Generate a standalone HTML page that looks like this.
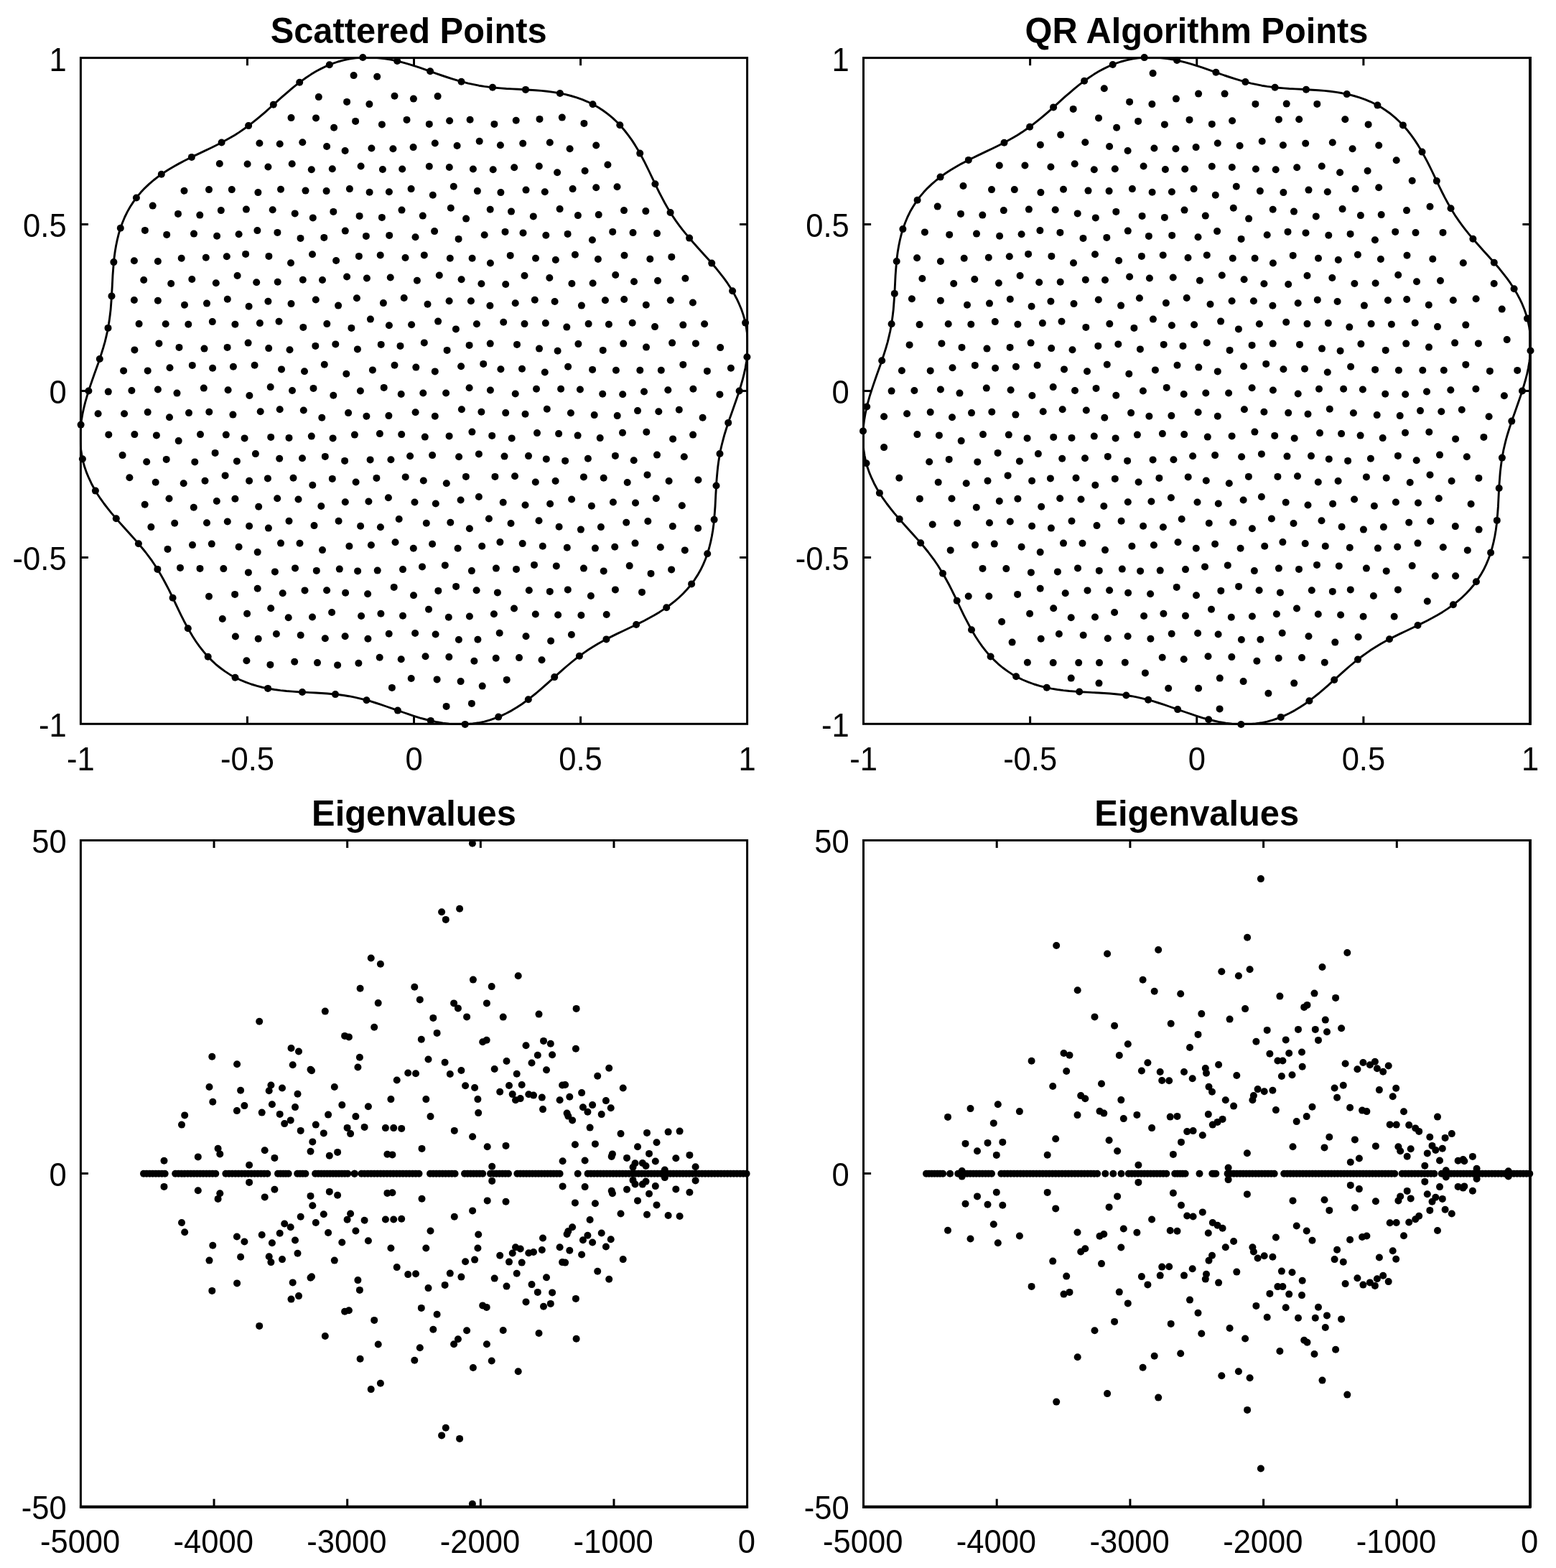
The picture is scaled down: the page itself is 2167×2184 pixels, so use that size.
<!DOCTYPE html>
<html lang="en">
<head>
<meta charset="utf-8">
<title>Scattered Points / QR Algorithm Points / Eigenvalues</title>
<style>
html,body{margin:0;padding:0;background:#fff}
body{width:2167px;height:2184px;overflow:hidden}
svg{display:block}
.tk{font-family:"Liberation Sans",sans-serif;font-size:44.2px;fill:#000}
.tt{font-family:"Liberation Sans",sans-serif;font-size:48.8px;font-weight:bold;fill:#000}
.d{fill:#000;stroke:none}
.c{stroke:#000;stroke-width:2.9;fill:none;stroke-linejoin:round}
</style>
</head>
<body>
<svg width="2167" height="2184" viewBox="0 0 2167 2184">
<rect width="2167" height="2184" fill="#fff"/>
<rect x="112.4" y="80.6" width="928.20" height="927.70" fill="none" stroke="#000" stroke-width="3.0"/>
<text transform="translate(112.40 1072.60) scale(0.985 1.03)" text-anchor="middle" class="tk">-1</text>
<path d="M344.45 1008.3v-10.6M344.45 80.6v10.6" stroke="#000" stroke-width="3.0" fill="none"/>
<text transform="translate(344.45 1072.60) scale(0.985 1.03)" text-anchor="middle" class="tk">-0.5</text>
<path d="M576.50 1008.3v-10.6M576.50 80.6v10.6" stroke="#000" stroke-width="3.0" fill="none"/>
<text transform="translate(576.50 1072.60) scale(0.985 1.03)" text-anchor="middle" class="tk">0</text>
<path d="M808.55 1008.3v-10.6M808.55 80.6v10.6" stroke="#000" stroke-width="3.0" fill="none"/>
<text transform="translate(808.55 1072.60) scale(0.985 1.03)" text-anchor="middle" class="tk">0.5</text>
<text transform="translate(1040.60 1072.60) scale(0.985 1.03)" text-anchor="middle" class="tk">1</text>
<text transform="translate(92.60 1026.20) scale(0.985 1.03)" text-anchor="end" class="tk">-1</text>
<path d="M112.4 776.38h10.6M1040.6 776.38h-10.6" stroke="#000" stroke-width="3.0" fill="none"/>
<text transform="translate(92.60 794.27) scale(0.985 1.03)" text-anchor="end" class="tk">-0.5</text>
<path d="M112.4 544.45h10.6M1040.6 544.45h-10.6" stroke="#000" stroke-width="3.0" fill="none"/>
<text transform="translate(92.60 562.35) scale(0.985 1.03)" text-anchor="end" class="tk">0</text>
<path d="M112.4 312.52h10.6M1040.6 312.52h-10.6" stroke="#000" stroke-width="3.0" fill="none"/>
<text transform="translate(92.60 330.42) scale(0.985 1.03)" text-anchor="end" class="tk">0.5</text>
<text transform="translate(92.60 98.50) scale(0.985 1.03)" text-anchor="end" class="tk">1</text>
<text transform="translate(569.20 59.90) scale(1 1.035)" text-anchor="middle" class="tt">Scattered Points</text>
<rect x="1202.5" y="80.6" width="928.50" height="927.70" fill="none" stroke="#000" stroke-width="3.0"/>
<line x1="2131.0" y1="79.1" x2="2131.0" y2="1009.8" stroke="#000" stroke-width="3.8"/>
<text transform="translate(1202.50 1072.60) scale(0.985 1.03)" text-anchor="middle" class="tk">-1</text>
<path d="M1434.62 1008.3v-10.6M1434.62 80.6v10.6" stroke="#000" stroke-width="3.0" fill="none"/>
<text transform="translate(1434.62 1072.60) scale(0.985 1.03)" text-anchor="middle" class="tk">-0.5</text>
<path d="M1666.75 1008.3v-10.6M1666.75 80.6v10.6" stroke="#000" stroke-width="3.0" fill="none"/>
<text transform="translate(1666.75 1072.60) scale(0.985 1.03)" text-anchor="middle" class="tk">0</text>
<path d="M1898.88 1008.3v-10.6M1898.88 80.6v10.6" stroke="#000" stroke-width="3.0" fill="none"/>
<text transform="translate(1898.88 1072.60) scale(0.985 1.03)" text-anchor="middle" class="tk">0.5</text>
<text transform="translate(2131.00 1072.60) scale(0.985 1.03)" text-anchor="middle" class="tk">1</text>
<text transform="translate(1182.70 1026.20) scale(0.985 1.03)" text-anchor="end" class="tk">-1</text>
<path d="M1202.5 776.38h10.6M2131.0 776.38h-10.6" stroke="#000" stroke-width="3.0" fill="none"/>
<text transform="translate(1182.70 794.27) scale(0.985 1.03)" text-anchor="end" class="tk">-0.5</text>
<path d="M1202.5 544.45h10.6M2131.0 544.45h-10.6" stroke="#000" stroke-width="3.0" fill="none"/>
<text transform="translate(1182.70 562.35) scale(0.985 1.03)" text-anchor="end" class="tk">0</text>
<path d="M1202.5 312.52h10.6M2131.0 312.52h-10.6" stroke="#000" stroke-width="3.0" fill="none"/>
<text transform="translate(1182.70 330.42) scale(0.985 1.03)" text-anchor="end" class="tk">0.5</text>
<text transform="translate(1182.70 98.50) scale(0.985 1.03)" text-anchor="end" class="tk">1</text>
<text transform="translate(1666.45 59.90) scale(1 1.035)" text-anchor="middle" class="tt">QR Algorithm Points</text>
<rect x="112.4" y="1170.5" width="928.20" height="927.80" fill="none" stroke="#000" stroke-width="3.0"/>
<line x1="110.9" y1="2099.0" x2="1042.1" y2="2099.0" stroke="#000" stroke-width="3.8"/>
<text transform="translate(111.60 2162.60) scale(0.985 1.03)" text-anchor="middle" class="tk">-5000</text>
<path d="M298.04 2098.3v-10.6M298.04 1170.5v10.6" stroke="#000" stroke-width="3.0" fill="none"/>
<text transform="translate(297.24 2162.60) scale(0.985 1.03)" text-anchor="middle" class="tk">-4000</text>
<path d="M483.68 2098.3v-10.6M483.68 1170.5v10.6" stroke="#000" stroke-width="3.0" fill="none"/>
<text transform="translate(482.88 2162.60) scale(0.985 1.03)" text-anchor="middle" class="tk">-3000</text>
<path d="M669.32 2098.3v-10.6M669.32 1170.5v10.6" stroke="#000" stroke-width="3.0" fill="none"/>
<text transform="translate(668.52 2162.60) scale(0.985 1.03)" text-anchor="middle" class="tk">-2000</text>
<path d="M854.96 2098.3v-10.6M854.96 1170.5v10.6" stroke="#000" stroke-width="3.0" fill="none"/>
<text transform="translate(854.16 2162.60) scale(0.985 1.03)" text-anchor="middle" class="tk">-1000</text>
<text transform="translate(1039.80 2162.60) scale(0.985 1.03)" text-anchor="middle" class="tk">0</text>
<text transform="translate(92.60 2116.20) scale(0.985 1.03)" text-anchor="end" class="tk">-50</text>
<path d="M112.4 1634.40h10.6M1040.6 1634.40h-10.6" stroke="#000" stroke-width="3.0" fill="none"/>
<text transform="translate(92.60 1652.30) scale(0.985 1.03)" text-anchor="end" class="tk">0</text>
<text transform="translate(92.60 1188.40) scale(0.985 1.03)" text-anchor="end" class="tk">50</text>
<text transform="translate(576.50 1149.80) scale(1 1.035)" text-anchor="middle" class="tt">Eigenvalues</text>
<rect x="1202.5" y="1170.5" width="928.50" height="927.80" fill="none" stroke="#000" stroke-width="3.0"/>
<line x1="1201.0" y1="2099.0" x2="2132.5" y2="2099.0" stroke="#000" stroke-width="3.8"/>
<line x1="2131.0" y1="1169.0" x2="2131.0" y2="2099.8" stroke="#000" stroke-width="3.8"/>
<text transform="translate(1201.70 2162.60) scale(0.985 1.03)" text-anchor="middle" class="tk">-5000</text>
<path d="M1388.20 2098.3v-10.6M1388.20 1170.5v10.6" stroke="#000" stroke-width="3.0" fill="none"/>
<text transform="translate(1387.40 2162.60) scale(0.985 1.03)" text-anchor="middle" class="tk">-4000</text>
<path d="M1573.90 2098.3v-10.6M1573.90 1170.5v10.6" stroke="#000" stroke-width="3.0" fill="none"/>
<text transform="translate(1573.10 2162.60) scale(0.985 1.03)" text-anchor="middle" class="tk">-3000</text>
<path d="M1759.60 2098.3v-10.6M1759.60 1170.5v10.6" stroke="#000" stroke-width="3.0" fill="none"/>
<text transform="translate(1758.80 2162.60) scale(0.985 1.03)" text-anchor="middle" class="tk">-2000</text>
<path d="M1945.30 2098.3v-10.6M1945.30 1170.5v10.6" stroke="#000" stroke-width="3.0" fill="none"/>
<text transform="translate(1944.50 2162.60) scale(0.985 1.03)" text-anchor="middle" class="tk">-1000</text>
<text transform="translate(2130.20 2162.60) scale(0.985 1.03)" text-anchor="middle" class="tk">0</text>
<text transform="translate(1182.70 2116.20) scale(0.985 1.03)" text-anchor="end" class="tk">-50</text>
<path d="M1202.5 1634.40h10.6M2131.0 1634.40h-10.6" stroke="#000" stroke-width="3.0" fill="none"/>
<text transform="translate(1182.70 1652.30) scale(0.985 1.03)" text-anchor="end" class="tk">0</text>
<text transform="translate(1182.70 1188.40) scale(0.985 1.03)" text-anchor="end" class="tk">50</text>
<text transform="translate(1666.75 1149.80) scale(1 1.035)" text-anchor="middle" class="tt">Eigenvalues</text>
<defs><clipPath id="k1"><rect x="110.9" y="79.1" width="931.1999999999999" height="930.6999999999999"/></clipPath><clipPath id="k2"><rect x="1201.0" y="79.1" width="931.5" height="930.6999999999999"/></clipPath></defs>
<path class="c" clip-path="url(#k1)" d="M1029.6 544.5L1032.0 536.5L1034.3 528.5L1036.3 520.4L1038.1 512.2L1039.5 504.0L1040.5 495.7L1041.2 487.4L1041.3 479.1L1041.1 470.9L1040.3 462.7L1039.1 454.6L1037.4 446.5L1035.2 438.6L1032.5 430.8L1029.3 423.2L1025.8 415.7L1021.9 408.4L1017.6 401.2L1013.0 394.2L1008.1 387.4L1003.0 380.8L997.8 374.3L992.4 368.0L987.0 361.8L981.5 355.7L976.1 349.7L970.7 343.7L965.4 337.8L960.3 331.8L955.3 325.9L950.4 319.9L945.8 313.8L941.3 307.6L937.1 301.4L933.0 295.0L929.1 288.4L925.3 281.7L921.7 274.9L918.1 268.0L914.6 260.9L911.2 253.7L907.7 246.4L904.2 239.0L900.6 231.6L896.9 224.2L893.0 216.9L888.9 209.6L884.6 202.4L880.1 195.4L875.2 188.6L870.1 182.0L864.7 175.7L859.0 169.8L853.0 164.1L846.6 158.8L840.0 154.0L833.1 149.5L825.9 145.5L818.5 141.8L810.9 138.7L803.1 135.9L795.1 133.5L787.0 131.4L778.9 129.8L770.6 128.4L762.3 127.3L754.0 126.4L745.8 125.8L737.5 125.2L729.3 124.8L721.2 124.3L713.2 123.9L705.3 123.5L697.4 122.9L689.7 122.2L682.0 121.4L674.5 120.4L667.0 119.2L659.5 117.7L652.1 116.1L644.7 114.2L637.3 112.2L629.9 109.9L622.5 107.5L615.0 105.0L607.4 102.3L599.8 99.6L592.1 96.9L584.4 94.2L576.5 91.6L568.5 89.1L560.5 86.9L552.4 84.8L544.2 83.1L536.0 81.7L527.7 80.7L519.5 80.0L511.2 79.8L502.9 80.1L494.7 80.9L486.6 82.1L478.5 83.8L470.6 86.0L462.8 88.7L455.2 91.8L447.7 95.4L440.3 99.3L433.2 103.6L426.2 108.2L419.4 113.1L412.8 118.2L406.3 123.4L400.0 128.8L393.8 134.2L387.6 139.7L381.6 145.1L375.6 150.5L369.7 155.8L363.8 160.9L357.8 165.9L351.8 170.7L345.7 175.4L339.6 179.8L333.3 184.1L326.9 188.2L320.3 192.1L313.6 195.8L306.8 199.5L299.9 203.0L292.8 206.5L285.6 209.9L278.3 213.4L270.9 216.9L263.5 220.5L256.1 224.2L248.8 228.1L241.5 232.2L234.3 236.5L227.3 241.0L220.5 245.9L213.9 251.0L207.6 256.4L201.6 262.1L196.0 268.1L190.7 274.4L185.8 281.1L181.3 288.0L177.3 295.1L173.7 302.5L170.5 310.2L167.7 318.0L165.3 325.9L163.3 334.0L161.6 342.2L160.2 350.4L159.1 358.7L158.3 367.0L157.6 375.3L157.0 383.5L156.6 391.7L156.2 399.8L155.7 407.8L155.3 415.7L154.7 423.6L154.1 431.3L153.2 439.0L152.2 446.6L151.0 454.1L149.6 461.5L147.9 468.9L146.1 476.3L144.0 483.7L141.7 491.1L139.3 498.5L136.8 506.0L134.1 513.5L131.4 521.1L128.7 528.8L126.0 536.6L123.4 544.5L121.0 552.4L118.7 560.4L116.7 568.5L114.9 576.7L113.5 584.9L112.5 593.2L111.8 601.5L111.7 609.8L111.9 618.0L112.7 626.2L113.9 634.3L115.6 642.4L117.8 650.3L120.5 658.1L123.7 665.7L127.2 673.2L131.1 680.5L135.4 687.7L140.0 694.7L144.9 701.5L150.0 708.1L155.2 714.6L160.6 720.9L166.0 727.1L171.5 733.2L176.9 739.2L182.3 745.2L187.6 751.1L192.7 757.1L197.7 763.0L202.6 769.0L207.2 775.1L211.7 781.2L215.9 787.5L220.0 793.9L223.9 800.5L227.7 807.2L231.3 814.0L234.9 820.9L238.4 828.0L241.8 835.2L245.3 842.5L248.8 849.9L252.4 857.3L256.1 864.7L260.0 872.0L264.1 879.3L268.4 886.5L272.9 893.5L277.8 900.3L282.9 906.9L288.3 913.2L294.0 919.1L300.0 924.8L306.4 930.0L313.0 934.9L319.9 939.4L327.1 943.4L334.5 947.0L342.1 950.2L349.9 953.0L357.9 955.4L365.9 957.5L374.1 959.1L382.4 960.5L390.7 961.6L399.0 962.5L407.2 963.1L415.5 963.7L423.7 964.1L431.8 964.6L439.8 965.0L447.7 965.5L455.6 966.0L463.3 966.7L471.0 967.5L478.5 968.5L486.1 969.7L493.5 971.2L500.9 972.8L508.3 974.7L515.7 976.7L523.1 979.0L530.5 981.4L538.0 984.0L545.6 986.6L553.2 989.3L560.9 992.0L568.6 994.7L576.5 997.3L584.5 999.8L592.5 1002.0L600.6 1004.0L608.8 1005.8L617.0 1007.2L625.3 1008.2L633.5 1008.9L641.8 1009.0L650.1 1008.8L658.3 1008.0L666.4 1006.8L674.5 1005.1L682.4 1002.9L690.2 1000.2L697.8 997.1L705.3 993.5L712.7 989.6L719.8 985.3L726.8 980.7L733.6 975.8L740.2 970.7L746.7 965.5L753.0 960.1L759.2 954.7L765.4 949.2L771.4 943.8L777.4 938.4L783.3 933.1L789.2 928.0L795.2 923.0L801.2 918.2L807.3 913.5L813.4 909.1L819.7 904.8L826.1 900.8L832.7 896.8L839.4 893.1L846.2 889.4L853.1 885.9L860.2 882.4L867.4 879.0L874.7 875.5L882.1 872.0L889.5 868.4L896.9 864.7L904.2 860.8L911.5 856.7L918.7 852.4L925.7 847.9L932.5 843.0L939.1 837.9L945.4 832.5L951.4 826.8L957.0 820.8L962.3 814.5L967.2 807.8L971.6 800.9L975.7 793.8L979.3 786.4L982.5 778.7L985.3 770.9L987.7 763.0L989.7 754.9L991.4 746.7L992.8 738.5L993.9 730.2L994.7 721.9L995.4 713.6L996.0 705.4L996.4 697.2L996.8 689.1L997.3 681.1L997.7 673.2L998.3 665.3L999.0 657.6L999.8 649.9L1000.8 642.4L1002.0 634.9L1003.4 627.4L1005.1 620.0L1007.0 612.6L1009.0 605.2L1011.3 597.8L1013.7 590.4L1016.2 582.9L1018.9 575.4L1021.6 567.8L1024.3 560.1L1027.0 552.3Z"/>
<path class="c" clip-path="url(#k2)" d="M2120.0 544.5L2122.4 536.5L2124.7 528.5L2126.8 520.4L2128.5 512.2L2129.9 504.0L2130.9 495.7L2131.6 487.4L2131.8 479.1L2131.5 470.9L2130.7 462.7L2129.5 454.6L2127.8 446.5L2125.6 438.6L2122.9 430.8L2119.8 423.2L2116.2 415.7L2112.3 408.4L2108.0 401.2L2103.4 394.2L2098.5 387.4L2093.4 380.8L2088.2 374.3L2082.8 368.0L2077.3 361.8L2071.9 355.7L2066.4 349.7L2061.1 343.7L2055.8 337.8L2050.6 331.8L2045.6 325.9L2040.8 319.9L2036.2 313.8L2031.7 307.6L2027.4 301.4L2023.4 295.0L2019.4 288.4L2015.7 281.7L2012.0 274.9L2008.5 268.0L2005.0 260.9L2001.5 253.7L1998.1 246.4L1994.6 239.0L1991.0 231.6L1987.2 224.2L1983.3 216.9L1979.3 209.6L1975.0 202.4L1970.4 195.4L1965.6 188.6L1960.5 182.0L1955.1 175.7L1949.3 169.8L1943.3 164.1L1937.0 158.8L1930.3 154.0L1923.5 149.5L1916.3 145.5L1908.9 141.8L1901.2 138.7L1893.4 135.9L1885.5 133.5L1877.4 131.4L1869.2 129.8L1860.9 128.4L1852.6 127.3L1844.3 126.4L1836.1 125.8L1827.8 125.2L1819.6 124.8L1811.5 124.3L1803.5 123.9L1795.6 123.5L1787.7 122.9L1780.0 122.2L1772.3 121.4L1764.7 120.4L1757.2 119.2L1749.8 117.7L1742.3 116.1L1735.0 114.2L1727.6 112.2L1720.2 109.9L1712.7 107.5L1705.2 105.0L1697.7 102.3L1690.1 99.6L1682.4 96.9L1674.6 94.2L1666.8 91.6L1658.8 89.1L1650.8 86.9L1642.6 84.8L1634.5 83.1L1626.2 81.7L1618.0 80.7L1609.7 80.0L1601.4 79.8L1593.1 80.1L1584.9 80.9L1576.8 82.1L1568.8 83.8L1560.8 86.0L1553.0 88.7L1545.4 91.8L1537.9 95.4L1530.5 99.3L1523.4 103.6L1516.4 108.2L1509.6 113.1L1503.0 118.2L1496.5 123.4L1490.2 128.8L1483.9 134.2L1477.8 139.7L1471.8 145.1L1465.8 150.5L1459.9 155.8L1454.0 160.9L1448.0 165.9L1442.0 170.7L1435.9 175.4L1429.7 179.8L1423.5 184.1L1417.0 188.2L1410.5 192.1L1403.8 195.8L1397.0 199.5L1390.0 203.0L1382.9 206.5L1375.7 209.9L1368.4 213.4L1361.1 216.9L1353.7 220.5L1346.3 224.2L1338.9 228.1L1331.6 232.2L1324.4 236.5L1317.4 241.0L1310.6 245.9L1304.0 251.0L1297.7 256.4L1291.7 262.1L1286.1 268.1L1280.8 274.4L1275.9 281.1L1271.5 288.0L1267.4 295.1L1263.8 302.5L1260.6 310.2L1257.8 318.0L1255.4 325.9L1253.4 334.0L1251.7 342.2L1250.3 350.4L1249.2 358.7L1248.4 367.0L1247.7 375.3L1247.1 383.5L1246.7 391.7L1246.3 399.8L1245.9 407.8L1245.4 415.7L1244.8 423.6L1244.2 431.3L1243.3 439.0L1242.3 446.6L1241.1 454.1L1239.7 461.5L1238.0 468.9L1236.2 476.3L1234.1 483.7L1231.8 491.1L1229.4 498.5L1226.9 506.0L1224.2 513.5L1221.5 521.1L1218.8 528.8L1216.1 536.6L1213.5 544.5L1211.0 552.4L1208.8 560.4L1206.8 568.5L1205.0 576.7L1203.6 584.9L1202.6 593.2L1201.9 601.5L1201.8 609.8L1202.0 618.0L1202.8 626.2L1204.0 634.3L1205.7 642.4L1207.9 650.3L1210.6 658.1L1213.8 665.7L1217.3 673.2L1221.2 680.5L1225.5 687.7L1230.1 694.7L1235.0 701.5L1240.1 708.1L1245.3 714.6L1250.7 720.9L1256.2 727.1L1261.6 733.2L1267.0 739.2L1272.4 745.2L1277.7 751.1L1282.9 757.1L1287.9 763.0L1292.7 769.0L1297.3 775.1L1301.8 781.2L1306.1 787.5L1310.1 793.9L1314.1 800.5L1317.8 807.2L1321.5 814.0L1325.0 820.9L1328.5 828.0L1332.0 835.2L1335.4 842.5L1338.9 849.9L1342.5 857.3L1346.3 864.7L1350.2 872.0L1354.2 879.3L1358.5 886.5L1363.1 893.5L1367.9 900.3L1373.0 906.9L1378.4 913.2L1384.2 919.1L1390.2 924.8L1396.5 930.0L1403.2 934.9L1410.0 939.4L1417.2 943.4L1424.6 947.0L1432.3 950.2L1440.1 953.0L1448.0 955.4L1456.1 957.5L1464.3 959.1L1472.6 960.5L1480.9 961.6L1489.2 962.5L1497.4 963.1L1505.7 963.7L1513.9 964.1L1522.0 964.6L1530.0 965.0L1537.9 965.5L1545.8 966.0L1553.5 966.7L1561.2 967.5L1568.8 968.5L1576.3 969.7L1583.7 971.2L1591.2 972.8L1598.5 974.7L1605.9 976.7L1613.3 979.0L1620.8 981.4L1628.3 984.0L1635.8 986.6L1643.4 989.3L1651.1 992.0L1658.9 994.7L1666.8 997.3L1674.7 999.8L1682.7 1002.0L1690.9 1004.0L1699.0 1005.8L1707.3 1007.2L1715.5 1008.2L1723.8 1008.9L1732.1 1009.0L1740.4 1008.8L1748.6 1008.0L1756.7 1006.8L1764.7 1005.1L1772.7 1002.9L1780.5 1000.2L1788.1 997.1L1795.6 993.5L1803.0 989.6L1810.1 985.3L1817.1 980.7L1823.9 975.8L1830.5 970.7L1837.0 965.5L1843.3 960.1L1849.6 954.7L1855.7 949.2L1861.7 943.8L1867.7 938.4L1873.6 933.1L1879.5 928.0L1885.5 923.0L1891.5 918.2L1897.6 913.5L1903.8 909.1L1910.0 904.8L1916.5 900.8L1923.0 896.8L1929.7 893.1L1936.5 889.4L1943.5 885.9L1950.6 882.4L1957.8 879.0L1965.1 875.5L1972.4 872.0L1979.8 868.4L1987.2 864.7L1994.6 860.8L2001.9 856.7L2009.1 852.4L2016.1 847.9L2022.9 843.0L2029.5 837.9L2035.8 832.5L2041.8 826.8L2047.4 820.8L2052.7 814.5L2057.6 807.8L2062.0 800.9L2066.1 793.8L2069.7 786.4L2072.9 778.7L2075.7 770.9L2078.1 763.0L2080.1 754.9L2081.8 746.7L2083.2 738.5L2084.3 730.2L2085.1 721.9L2085.8 713.6L2086.4 705.4L2086.8 697.2L2087.2 689.1L2087.6 681.1L2088.1 673.2L2088.7 665.3L2089.3 657.6L2090.2 649.9L2091.2 642.4L2092.4 634.9L2093.8 627.4L2095.5 620.0L2097.3 612.6L2099.4 605.2L2101.7 597.8L2104.1 590.4L2106.6 582.9L2109.3 575.4L2112.0 567.8L2114.7 560.1L2117.4 552.3Z"/>
<g class="d"><circle cx="1029.6" cy="544.5" r="5"/><circle cx="1040.4" cy="497.3" r="5"/><circle cx="1038.1" cy="449.6" r="5"/><circle cx="1020.1" cy="405.3" r="5"/><circle cx="991.2" cy="366.6" r="5"/><circle cx="960.1" cy="331.6" r="5"/><circle cx="933.6" cy="296.0" r="5"/><circle cx="912.4" cy="256.2" r="5"/><circle cx="891.2" cy="213.6" r="5"/><circle cx="863.3" cy="174.2" r="5"/><circle cx="825.5" cy="145.2" r="5"/><circle cx="779.9" cy="130.0" r="5"/><circle cx="732.0" cy="124.9" r="5"/><circle cx="686.0" cy="121.8" r="5"/><circle cx="642.5" cy="113.7" r="5"/><circle cx="599.1" cy="99.3" r="5"/><circle cx="553.2" cy="85.0" r="5"/><circle cx="505.3" cy="80.0" r="5"/><circle cx="458.8" cy="90.3" r="5"/><circle cx="417.2" cy="114.7" r="5"/><circle cx="380.8" cy="145.8" r="5"/><circle cx="346.1" cy="175.1" r="5"/><circle cx="308.6" cy="198.5" r="5"/><circle cx="266.9" cy="218.9" r="5"/><circle cx="224.8" cy="242.7" r="5"/><circle cx="189.9" cy="275.5" r="5"/><circle cx="167.8" cy="317.7" r="5"/><circle cx="158.4" cy="365.1" r="5"/><circle cx="155.5" cy="412.4" r="5"/><circle cx="150.5" cy="456.9" r="5"/><circle cx="138.8" cy="500.0" r="5"/><circle cx="123.4" cy="544.5" r="5"/><circle cx="112.6" cy="591.6" r="5"/><circle cx="114.9" cy="639.3" r="5"/><circle cx="132.9" cy="683.6" r="5"/><circle cx="161.8" cy="722.3" r="5"/><circle cx="192.9" cy="757.2" r="5"/><circle cx="219.4" cy="792.9" r="5"/><circle cx="240.6" cy="832.7" r="5"/><circle cx="261.8" cy="875.3" r="5"/><circle cx="289.7" cy="914.7" r="5"/><circle cx="327.5" cy="943.7" r="5"/><circle cx="373.1" cy="958.9" r="5"/><circle cx="421.0" cy="964.0" r="5"/><circle cx="467.0" cy="967.1" r="5"/><circle cx="510.5" cy="975.2" r="5"/><circle cx="553.9" cy="989.6" r="5"/><circle cx="599.8" cy="1003.9" r="5"/><circle cx="647.7" cy="1008.9" r="5"/><circle cx="694.2" cy="998.6" r="5"/><circle cx="735.8" cy="974.2" r="5"/><circle cx="772.2" cy="943.1" r="5"/><circle cx="806.9" cy="913.8" r="5"/><circle cx="844.4" cy="890.4" r="5"/><circle cx="886.1" cy="870.0" r="5"/><circle cx="928.2" cy="846.2" r="5"/><circle cx="963.1" cy="813.4" r="5"/><circle cx="985.2" cy="771.2" r="5"/><circle cx="994.6" cy="723.8" r="5"/><circle cx="997.5" cy="676.5" r="5"/><circle cx="1002.5" cy="632.0" r="5"/><circle cx="1014.2" cy="588.9" r="5"/></g>
<g class="d"><circle cx="492.6" cy="105.1" r="5"/><circle cx="525.2" cy="106.8" r="5"/><circle cx="443.8" cy="135.1" r="5"/><circle cx="483.1" cy="141.9" r="5"/><circle cx="514.4" cy="145.1" r="5"/><circle cx="549.5" cy="133.8" r="5"/><circle cx="575.9" cy="137.6" r="5"/><circle cx="405.5" cy="164.1" r="5"/><circle cx="440.0" cy="164.4" r="5"/><circle cx="465.1" cy="177.7" r="5"/><circle cx="495.1" cy="168.9" r="5"/><circle cx="531.9" cy="173.4" r="5"/><circle cx="566.5" cy="166.9" r="5"/><circle cx="361.4" cy="199.5" r="5"/><circle cx="389.7" cy="200.5" r="5"/><circle cx="421.3" cy="198.2" r="5"/><circle cx="455.1" cy="204.0" r="5"/><circle cx="480.6" cy="210.0" r="5"/><circle cx="517.4" cy="206.5" r="5"/><circle cx="547.4" cy="207.2" r="5"/><circle cx="575.6" cy="205.1" r="5"/><circle cx="305.8" cy="228.0" r="5"/><circle cx="344.6" cy="228.5" r="5"/><circle cx="373.4" cy="232.5" r="5"/><circle cx="406.7" cy="228.2" r="5"/><circle cx="433.8" cy="236.3" r="5"/><circle cx="462.8" cy="235.3" r="5"/><circle cx="502.6" cy="231.5" r="5"/><circle cx="532.9" cy="236.0" r="5"/><circle cx="560.2" cy="235.5" r="5"/><circle cx="256.5" cy="265.8" r="5"/><circle cx="291.0" cy="264.1" r="5"/><circle cx="322.8" cy="264.1" r="5"/><circle cx="359.4" cy="268.1" r="5"/><circle cx="391.0" cy="263.8" r="5"/><circle cx="425.5" cy="265.6" r="5"/><circle cx="454.6" cy="266.1" r="5"/><circle cx="486.9" cy="263.1" r="5"/><circle cx="514.6" cy="267.8" r="5"/><circle cx="541.9" cy="267.3" r="5"/><circle cx="572.6" cy="263.1" r="5"/><circle cx="212.7" cy="286.6" r="5"/><circle cx="248.0" cy="297.9" r="5"/><circle cx="278.3" cy="299.6" r="5"/><circle cx="307.8" cy="293.1" r="5"/><circle cx="342.9" cy="291.6" r="5"/><circle cx="379.7" cy="292.3" r="5"/><circle cx="410.7" cy="297.4" r="5"/><circle cx="435.8" cy="303.4" r="5"/><circle cx="464.3" cy="294.9" r="5"/><circle cx="500.6" cy="300.9" r="5"/><circle cx="531.9" cy="302.9" r="5"/><circle cx="559.5" cy="292.6" r="5"/><circle cx="201.9" cy="320.9" r="5"/><circle cx="232.2" cy="326.9" r="5"/><circle cx="270.0" cy="325.6" r="5"/><circle cx="302.1" cy="328.7" r="5"/><circle cx="332.6" cy="326.2" r="5"/><circle cx="358.4" cy="321.1" r="5"/><circle cx="386.4" cy="323.9" r="5"/><circle cx="418.5" cy="331.9" r="5"/><circle cx="451.3" cy="330.9" r="5"/><circle cx="480.8" cy="321.6" r="5"/><circle cx="509.9" cy="328.9" r="5"/><circle cx="542.2" cy="327.9" r="5"/><circle cx="578.5" cy="330.2" r="5"/><circle cx="186.9" cy="363.2" r="5"/><circle cx="219.9" cy="364.0" r="5"/><circle cx="252.7" cy="359.7" r="5"/><circle cx="286.8" cy="358.7" r="5"/><circle cx="315.8" cy="357.2" r="5"/><circle cx="342.1" cy="353.9" r="5"/><circle cx="374.4" cy="356.9" r="5"/><circle cx="405.0" cy="366.2" r="5"/><circle cx="435.0" cy="354.2" r="5"/><circle cx="468.1" cy="363.0" r="5"/><circle cx="499.9" cy="356.9" r="5"/><circle cx="529.7" cy="355.4" r="5"/><circle cx="564.5" cy="359.0" r="5"/><circle cx="200.2" cy="390.0" r="5"/><circle cx="238.2" cy="395.0" r="5"/><circle cx="267.3" cy="389.0" r="5"/><circle cx="300.8" cy="394.3" r="5"/><circle cx="330.6" cy="384.0" r="5"/><circle cx="357.2" cy="393.3" r="5"/><circle cx="386.7" cy="392.8" r="5"/><circle cx="421.8" cy="389.7" r="5"/><circle cx="449.0" cy="390.0" r="5"/><circle cx="483.1" cy="385.5" r="5"/><circle cx="510.9" cy="387.5" r="5"/><circle cx="543.7" cy="386.5" r="5"/><circle cx="580.9" cy="390.8" r="5"/><circle cx="186.9" cy="418.0" r="5"/><circle cx="219.9" cy="418.8" r="5"/><circle cx="257.0" cy="424.8" r="5"/><circle cx="288.0" cy="422.6" r="5"/><circle cx="316.8" cy="416.8" r="5"/><circle cx="346.6" cy="426.8" r="5"/><circle cx="373.4" cy="419.8" r="5"/><circle cx="405.5" cy="423.1" r="5"/><circle cx="439.8" cy="417.5" r="5"/><circle cx="471.1" cy="425.6" r="5"/><circle cx="496.9" cy="415.3" r="5"/><circle cx="533.9" cy="422.1" r="5"/><circle cx="562.7" cy="415.0" r="5"/><circle cx="193.6" cy="451.1" r="5"/><circle cx="230.7" cy="451.3" r="5"/><circle cx="262.3" cy="451.8" r="5"/><circle cx="295.8" cy="448.1" r="5"/><circle cx="327.4" cy="451.8" r="5"/><circle cx="361.9" cy="450.1" r="5"/><circle cx="388.5" cy="447.8" r="5"/><circle cx="422.3" cy="455.9" r="5"/><circle cx="455.3" cy="451.1" r="5"/><circle cx="489.4" cy="456.9" r="5"/><circle cx="515.9" cy="444.6" r="5"/><circle cx="541.9" cy="453.3" r="5"/><circle cx="573.1" cy="452.3" r="5"/><circle cx="187.4" cy="487.4" r="5"/><circle cx="221.4" cy="478.4" r="5"/><circle cx="249.5" cy="483.9" r="5"/><circle cx="284.5" cy="485.6" r="5"/><circle cx="316.6" cy="483.9" r="5"/><circle cx="345.6" cy="477.6" r="5"/><circle cx="374.2" cy="485.1" r="5"/><circle cx="403.5" cy="487.2" r="5"/><circle cx="439.3" cy="481.9" r="5"/><circle cx="467.3" cy="479.4" r="5"/><circle cx="497.9" cy="486.4" r="5"/><circle cx="530.7" cy="479.9" r="5"/><circle cx="557.5" cy="481.9" r="5"/><circle cx="172.1" cy="516.4" r="5"/><circle cx="205.7" cy="516.4" r="5"/><circle cx="236.5" cy="512.2" r="5"/><circle cx="267.8" cy="508.9" r="5"/><circle cx="296.1" cy="512.7" r="5"/><circle cx="324.9" cy="510.7" r="5"/><circle cx="354.6" cy="508.7" r="5"/><circle cx="392.0" cy="514.4" r="5"/><circle cx="424.0" cy="517.2" r="5"/><circle cx="451.8" cy="507.7" r="5"/><circle cx="482.3" cy="520.7" r="5"/><circle cx="518.9" cy="515.4" r="5"/><circle cx="549.5" cy="508.7" r="5"/><circle cx="579.3" cy="511.6" r="5"/><circle cx="150.8" cy="545.6" r="5"/><circle cx="183.4" cy="544.0" r="5"/><circle cx="219.9" cy="542.5" r="5"/><circle cx="246.5" cy="547.6" r="5"/><circle cx="283.8" cy="540.6" r="5"/><circle cx="317.6" cy="543.2" r="5"/><circle cx="376.7" cy="539.1" r="5"/><circle cx="407.0" cy="544.0" r="5"/><circle cx="436.5" cy="540.9" r="5"/><circle cx="501.9" cy="544.5" r="5"/><circle cx="534.7" cy="539.9" r="5"/><circle cx="609.6" cy="134.1" r="5"/><circle cx="597.8" cy="172.9" r="5"/><circle cx="626.1" cy="168.2" r="5"/><circle cx="654.6" cy="166.7" r="5"/><circle cx="688.4" cy="172.9" r="5"/><circle cx="718.7" cy="167.7" r="5"/><circle cx="751.5" cy="165.9" r="5"/><circle cx="782.8" cy="163.6" r="5"/><circle cx="813.4" cy="171.9" r="5"/><circle cx="605.8" cy="199.5" r="5"/><circle cx="636.6" cy="203.0" r="5"/><circle cx="667.7" cy="196.7" r="5"/><circle cx="696.9" cy="202.2" r="5"/><circle cx="728.2" cy="199.7" r="5"/><circle cx="765.8" cy="198.5" r="5"/><circle cx="793.6" cy="207.2" r="5"/><circle cx="830.2" cy="202.5" r="5"/><circle cx="597.8" cy="231.8" r="5"/><circle cx="625.8" cy="233.0" r="5"/><circle cx="658.9" cy="235.5" r="5"/><circle cx="686.7" cy="236.3" r="5"/><circle cx="716.2" cy="233.3" r="5"/><circle cx="750.8" cy="231.5" r="5"/><circle cx="776.1" cy="240.3" r="5"/><circle cx="814.6" cy="238.0" r="5"/><circle cx="846.4" cy="229.5" r="5"/><circle cx="602.8" cy="271.8" r="5"/><circle cx="631.8" cy="259.8" r="5"/><circle cx="664.9" cy="266.1" r="5"/><circle cx="697.4" cy="268.1" r="5"/><circle cx="732.5" cy="264.6" r="5"/><circle cx="758.8" cy="267.3" r="5"/><circle cx="797.6" cy="263.1" r="5"/><circle cx="830.2" cy="261.3" r="5"/><circle cx="859.5" cy="260.3" r="5"/><circle cx="588.8" cy="300.6" r="5"/><circle cx="627.8" cy="289.8" r="5"/><circle cx="649.1" cy="304.6" r="5"/><circle cx="682.7" cy="291.8" r="5"/><circle cx="712.0" cy="294.6" r="5"/><circle cx="742.8" cy="301.4" r="5"/><circle cx="779.6" cy="291.1" r="5"/><circle cx="804.9" cy="300.1" r="5"/><circle cx="833.7" cy="299.1" r="5"/><circle cx="869.0" cy="293.1" r="5"/><circle cx="899.3" cy="294.1" r="5"/><circle cx="605.1" cy="322.1" r="5"/><circle cx="638.6" cy="332.9" r="5"/><circle cx="674.7" cy="327.2" r="5"/><circle cx="703.5" cy="322.9" r="5"/><circle cx="728.5" cy="324.4" r="5"/><circle cx="760.3" cy="327.7" r="5"/><circle cx="790.6" cy="325.9" r="5"/><circle cx="824.9" cy="334.2" r="5"/><circle cx="853.2" cy="322.9" r="5"/><circle cx="881.5" cy="324.1" r="5"/><circle cx="915.0" cy="325.1" r="5"/><circle cx="590.8" cy="355.4" r="5"/><circle cx="626.8" cy="359.7" r="5"/><circle cx="657.6" cy="359.7" r="5"/><circle cx="682.9" cy="366.5" r="5"/><circle cx="710.7" cy="355.9" r="5"/><circle cx="746.0" cy="359.7" r="5"/><circle cx="773.8" cy="362.0" r="5"/><circle cx="800.9" cy="354.7" r="5"/><circle cx="832.9" cy="361.0" r="5"/><circle cx="869.5" cy="355.7" r="5"/><circle cx="905.3" cy="360.7" r="5"/><circle cx="935.3" cy="357.9" r="5"/><circle cx="611.8" cy="383.5" r="5"/><circle cx="642.6" cy="389.2" r="5"/><circle cx="670.4" cy="395.3" r="5"/><circle cx="704.2" cy="396.0" r="5"/><circle cx="730.5" cy="384.0" r="5"/><circle cx="765.3" cy="387.0" r="5"/><circle cx="796.4" cy="395.0" r="5"/><circle cx="825.6" cy="394.5" r="5"/><circle cx="857.2" cy="383.0" r="5"/><circle cx="883.0" cy="392.3" r="5"/><circle cx="916.0" cy="391.0" r="5"/><circle cx="954.4" cy="387.7" r="5"/><circle cx="595.5" cy="423.8" r="5"/><circle cx="625.6" cy="419.3" r="5"/><circle cx="655.9" cy="419.3" r="5"/><circle cx="682.4" cy="425.8" r="5"/><circle cx="717.7" cy="422.3" r="5"/><circle cx="744.8" cy="417.8" r="5"/><circle cx="772.6" cy="420.0" r="5"/><circle cx="809.9" cy="425.6" r="5"/><circle cx="842.9" cy="418.3" r="5"/><circle cx="869.2" cy="417.0" r="5"/><circle cx="899.8" cy="424.8" r="5"/><circle cx="933.8" cy="418.3" r="5"/><circle cx="964.9" cy="421.5" r="5"/><circle cx="610.1" cy="447.6" r="5"/><circle cx="634.9" cy="458.4" r="5"/><circle cx="663.9" cy="451.3" r="5"/><circle cx="701.2" cy="448.8" r="5"/><circle cx="730.5" cy="451.1" r="5"/><circle cx="759.8" cy="450.1" r="5"/><circle cx="789.3" cy="455.6" r="5"/><circle cx="819.6" cy="451.1" r="5"/><circle cx="847.9" cy="451.8" r="5"/><circle cx="880.7" cy="449.8" r="5"/><circle cx="912.0" cy="455.1" r="5"/><circle cx="951.3" cy="452.6" r="5"/><circle cx="981.1" cy="451.3" r="5"/><circle cx="590.8" cy="477.4" r="5"/><circle cx="622.6" cy="487.9" r="5"/><circle cx="653.6" cy="480.9" r="5"/><circle cx="682.7" cy="478.6" r="5"/><circle cx="720.0" cy="479.9" r="5"/><circle cx="751.0" cy="485.6" r="5"/><circle cx="776.6" cy="488.7" r="5"/><circle cx="805.4" cy="479.1" r="5"/><circle cx="839.7" cy="487.9" r="5"/><circle cx="868.2" cy="478.6" r="5"/><circle cx="900.0" cy="483.6" r="5"/><circle cx="936.1" cy="477.6" r="5"/><circle cx="968.9" cy="478.4" r="5"/><circle cx="1003.2" cy="484.1" r="5"/><circle cx="605.8" cy="517.4" r="5"/><circle cx="642.1" cy="510.2" r="5"/><circle cx="673.2" cy="506.9" r="5"/><circle cx="697.4" cy="514.2" r="5"/><circle cx="727.0" cy="513.7" r="5"/><circle cx="758.8" cy="518.5" r="5"/><circle cx="791.1" cy="510.7" r="5"/><circle cx="825.1" cy="514.9" r="5"/><circle cx="857.9" cy="515.7" r="5"/><circle cx="891.3" cy="515.7" r="5"/><circle cx="920.8" cy="515.7" r="5"/><circle cx="951.3" cy="507.9" r="5"/><circle cx="984.9" cy="516.9" r="5"/><circle cx="1017.9" cy="512.7" r="5"/><circle cx="589.3" cy="547.5" r="5"/><circle cx="621.1" cy="547.5" r="5"/><circle cx="653.6" cy="540.2" r="5"/><circle cx="682.9" cy="543.5" r="5"/><circle cx="717.7" cy="548.5" r="5"/><circle cx="747.0" cy="541.7" r="5"/><circle cx="781.1" cy="541.7" r="5"/><circle cx="807.9" cy="542.5" r="5"/><circle cx="839.2" cy="548.8" r="5"/><circle cx="867.2" cy="549.3" r="5"/><circle cx="897.0" cy="545.5" r="5"/><circle cx="930.3" cy="543.2" r="5"/><circle cx="965.4" cy="541.7" r="5"/><circle cx="1002.4" cy="549.4" r="5"/><circle cx="347.4" cy="551.0" r="5"/><circle cx="464.3" cy="550.8" r="5"/><circle cx="558.7" cy="549.0" r="5"/><circle cx="136.6" cy="576.3" r="5"/><circle cx="173.1" cy="576.3" r="5"/><circle cx="205.7" cy="574.1" r="5"/><circle cx="236.0" cy="581.3" r="5"/><circle cx="263.0" cy="575.1" r="5"/><circle cx="291.3" cy="573.8" r="5"/><circle cx="324.4" cy="577.6" r="5"/><circle cx="362.7" cy="573.3" r="5"/><circle cx="389.7" cy="570.3" r="5"/><circle cx="422.8" cy="571.5" r="5"/><circle cx="448.3" cy="581.8" r="5"/><circle cx="485.1" cy="575.1" r="5"/><circle cx="510.4" cy="579.8" r="5"/><circle cx="541.4" cy="579.1" r="5"/><circle cx="578.6" cy="574.2" r="5"/><circle cx="151.3" cy="605.4" r="5"/><circle cx="187.4" cy="605.1" r="5"/><circle cx="217.9" cy="606.4" r="5"/><circle cx="248.7" cy="614.1" r="5"/><circle cx="279.0" cy="605.1" r="5"/><circle cx="314.8" cy="605.6" r="5"/><circle cx="340.6" cy="610.4" r="5"/><circle cx="377.2" cy="608.9" r="5"/><circle cx="402.5" cy="609.9" r="5"/><circle cx="433.8" cy="607.6" r="5"/><circle cx="463.6" cy="610.4" r="5"/><circle cx="493.9" cy="605.6" r="5"/><circle cx="528.9" cy="604.1" r="5"/><circle cx="559.2" cy="605.1" r="5"/><circle cx="170.6" cy="634.1" r="5"/><circle cx="204.2" cy="643.2" r="5"/><circle cx="231.7" cy="639.9" r="5"/><circle cx="271.3" cy="643.4" r="5"/><circle cx="299.6" cy="630.9" r="5"/><circle cx="329.9" cy="642.4" r="5"/><circle cx="355.9" cy="632.1" r="5"/><circle cx="389.2" cy="638.7" r="5"/><circle cx="421.0" cy="638.2" r="5"/><circle cx="452.8" cy="635.9" r="5"/><circle cx="480.1" cy="641.9" r="5"/><circle cx="515.6" cy="640.4" r="5"/><circle cx="544.4" cy="640.2" r="5"/><circle cx="571.1" cy="635.3" r="5"/><circle cx="180.4" cy="665.2" r="5"/><circle cx="216.7" cy="671.7" r="5"/><circle cx="255.7" cy="673.2" r="5"/><circle cx="285.5" cy="669.7" r="5"/><circle cx="313.6" cy="662.4" r="5"/><circle cx="347.1" cy="669.7" r="5"/><circle cx="372.9" cy="666.4" r="5"/><circle cx="408.5" cy="665.7" r="5"/><circle cx="435.3" cy="675.7" r="5"/><circle cx="462.8" cy="666.9" r="5"/><circle cx="495.6" cy="671.5" r="5"/><circle cx="524.4" cy="665.9" r="5"/><circle cx="564.7" cy="664.4" r="5"/><circle cx="201.7" cy="702.8" r="5"/><circle cx="235.5" cy="694.5" r="5"/><circle cx="269.8" cy="706.8" r="5"/><circle cx="301.8" cy="698.0" r="5"/><circle cx="327.4" cy="694.7" r="5"/><circle cx="360.2" cy="705.8" r="5"/><circle cx="386.2" cy="694.2" r="5"/><circle cx="415.5" cy="695.5" r="5"/><circle cx="447.3" cy="705.0" r="5"/><circle cx="480.8" cy="699.2" r="5"/><circle cx="513.4" cy="698.5" r="5"/><circle cx="540.9" cy="693.2" r="5"/><circle cx="577.5" cy="699.5" r="5"/><circle cx="210.4" cy="734.1" r="5"/><circle cx="243.2" cy="728.8" r="5"/><circle cx="288.0" cy="728.3" r="5"/><circle cx="316.8" cy="726.5" r="5"/><circle cx="347.1" cy="732.8" r="5"/><circle cx="373.9" cy="735.6" r="5"/><circle cx="402.5" cy="725.8" r="5"/><circle cx="437.5" cy="732.1" r="5"/><circle cx="471.6" cy="725.8" r="5"/><circle cx="502.1" cy="732.8" r="5"/><circle cx="529.9" cy="734.3" r="5"/><circle cx="555.7" cy="723.0" r="5"/><circle cx="233.5" cy="764.9" r="5"/><circle cx="268.0" cy="759.1" r="5"/><circle cx="294.8" cy="757.6" r="5"/><circle cx="332.6" cy="761.8" r="5"/><circle cx="358.7" cy="769.1" r="5"/><circle cx="391.0" cy="756.6" r="5"/><circle cx="417.5" cy="756.8" r="5"/><circle cx="449.0" cy="766.1" r="5"/><circle cx="486.4" cy="760.8" r="5"/><circle cx="516.9" cy="759.3" r="5"/><circle cx="550.5" cy="755.3" r="5"/><circle cx="575.8" cy="763.8" r="5"/><circle cx="251.0" cy="790.9" r="5"/><circle cx="278.5" cy="791.9" r="5"/><circle cx="311.3" cy="792.1" r="5"/><circle cx="345.9" cy="797.4" r="5"/><circle cx="382.9" cy="796.4" r="5"/><circle cx="411.0" cy="791.4" r="5"/><circle cx="440.8" cy="794.9" r="5"/><circle cx="472.8" cy="792.6" r="5"/><circle cx="498.1" cy="795.4" r="5"/><circle cx="525.7" cy="794.6" r="5"/><circle cx="561.0" cy="793.1" r="5"/><circle cx="291.0" cy="830.7" r="5"/><circle cx="327.1" cy="827.9" r="5"/><circle cx="358.7" cy="819.7" r="5"/><circle cx="393.7" cy="826.2" r="5"/><circle cx="424.5" cy="822.4" r="5"/><circle cx="455.1" cy="822.2" r="5"/><circle cx="481.1" cy="825.7" r="5"/><circle cx="512.1" cy="827.2" r="5"/><circle cx="548.7" cy="817.9" r="5"/><circle cx="576.0" cy="829.2" r="5"/><circle cx="309.8" cy="862.0" r="5"/><circle cx="344.1" cy="854.7" r="5"/><circle cx="377.2" cy="847.2" r="5"/><circle cx="401.7" cy="860.3" r="5"/><circle cx="435.0" cy="859.5" r="5"/><circle cx="462.1" cy="853.0" r="5"/><circle cx="503.1" cy="858.0" r="5"/><circle cx="530.4" cy="854.7" r="5"/><circle cx="561.0" cy="857.7" r="5"/><circle cx="327.9" cy="886.5" r="5"/><circle cx="359.7" cy="889.8" r="5"/><circle cx="384.9" cy="883.0" r="5"/><circle cx="418.7" cy="884.8" r="5"/><circle cx="452.8" cy="889.3" r="5"/><circle cx="480.6" cy="886.3" r="5"/><circle cx="512.4" cy="889.8" r="5"/><circle cx="541.7" cy="882.8" r="5"/><circle cx="578.1" cy="882.0" r="5"/><circle cx="343.4" cy="920.3" r="5"/><circle cx="376.4" cy="925.9" r="5"/><circle cx="410.2" cy="921.8" r="5"/><circle cx="442.0" cy="923.1" r="5"/><circle cx="470.1" cy="926.4" r="5"/><circle cx="499.4" cy="923.8" r="5"/><circle cx="528.7" cy="915.8" r="5"/><circle cx="558.7" cy="918.3" r="5"/><circle cx="572.7" cy="945.0" r="5"/><circle cx="545.9" cy="957.9" r="5"/><circle cx="605.8" cy="579.8" r="5"/><circle cx="642.9" cy="570.3" r="5"/><circle cx="670.4" cy="573.8" r="5"/><circle cx="704.2" cy="575.1" r="5"/><circle cx="731.5" cy="576.8" r="5"/><circle cx="761.8" cy="569.8" r="5"/><circle cx="794.9" cy="575.3" r="5"/><circle cx="827.7" cy="578.1" r="5"/><circle cx="859.7" cy="579.1" r="5"/><circle cx="888.0" cy="572.1" r="5"/><circle cx="917.3" cy="573.3" r="5"/><circle cx="945.8" cy="570.8" r="5"/><circle cx="978.6" cy="581.8" r="5"/><circle cx="591.8" cy="608.6" r="5"/><circle cx="625.6" cy="607.4" r="5"/><circle cx="657.4" cy="601.6" r="5"/><circle cx="685.2" cy="606.9" r="5"/><circle cx="712.7" cy="610.4" r="5"/><circle cx="748.0" cy="603.1" r="5"/><circle cx="778.1" cy="604.1" r="5"/><circle cx="804.6" cy="606.6" r="5"/><circle cx="835.7" cy="610.1" r="5"/><circle cx="867.0" cy="602.8" r="5"/><circle cx="900.3" cy="601.8" r="5"/><circle cx="937.1" cy="611.4" r="5"/><circle cx="965.1" cy="605.6" r="5"/><circle cx="602.1" cy="634.1" r="5"/><circle cx="639.1" cy="636.2" r="5"/><circle cx="666.9" cy="632.4" r="5"/><circle cx="702.5" cy="635.6" r="5"/><circle cx="736.0" cy="635.1" r="5"/><circle cx="760.8" cy="639.4" r="5"/><circle cx="787.1" cy="641.9" r="5"/><circle cx="818.9" cy="638.7" r="5"/><circle cx="856.9" cy="634.9" r="5"/><circle cx="882.7" cy="641.2" r="5"/><circle cx="915.0" cy="633.6" r="5"/><circle cx="952.8" cy="636.2" r="5"/><circle cx="589.8" cy="669.5" r="5"/><circle cx="621.8" cy="673.2" r="5"/><circle cx="648.9" cy="663.9" r="5"/><circle cx="689.4" cy="663.9" r="5"/><circle cx="717.0" cy="663.2" r="5"/><circle cx="745.8" cy="671.5" r="5"/><circle cx="773.6" cy="670.0" r="5"/><circle cx="812.9" cy="664.4" r="5"/><circle cx="840.7" cy="665.7" r="5"/><circle cx="873.7" cy="672.0" r="5"/><circle cx="901.5" cy="661.4" r="5"/><circle cx="931.6" cy="670.0" r="5"/><circle cx="972.4" cy="668.5" r="5"/><circle cx="606.8" cy="701.5" r="5"/><circle cx="641.6" cy="696.5" r="5"/><circle cx="666.9" cy="692.0" r="5"/><circle cx="700.7" cy="699.7" r="5"/><circle cx="731.5" cy="703.5" r="5"/><circle cx="766.1" cy="701.8" r="5"/><circle cx="796.1" cy="695.5" r="5"/><circle cx="823.9" cy="704.8" r="5"/><circle cx="853.9" cy="699.5" r="5"/><circle cx="885.0" cy="700.5" r="5"/><circle cx="913.8" cy="694.2" r="5"/><circle cx="949.8" cy="704.3" r="5"/><circle cx="593.8" cy="728.8" r="5"/><circle cx="627.3" cy="727.8" r="5"/><circle cx="653.9" cy="736.3" r="5"/><circle cx="680.9" cy="722.5" r="5"/><circle cx="711.5" cy="729.0" r="5"/><circle cx="750.5" cy="725.3" r="5"/><circle cx="778.6" cy="733.8" r="5"/><circle cx="808.9" cy="737.6" r="5"/><circle cx="836.9" cy="734.1" r="5"/><circle cx="872.2" cy="727.8" r="5"/><circle cx="902.3" cy="726.0" r="5"/><circle cx="936.8" cy="733.1" r="5"/><circle cx="972.1" cy="735.8" r="5"/><circle cx="602.1" cy="757.8" r="5"/><circle cx="637.6" cy="763.8" r="5"/><circle cx="671.2" cy="760.8" r="5"/><circle cx="696.4" cy="755.1" r="5"/><circle cx="727.7" cy="757.1" r="5"/><circle cx="755.8" cy="760.8" r="5"/><circle cx="789.8" cy="762.8" r="5"/><circle cx="828.9" cy="763.6" r="5"/><circle cx="856.2" cy="761.8" r="5"/><circle cx="884.5" cy="756.6" r="5"/><circle cx="919.8" cy="762.3" r="5"/><circle cx="953.8" cy="766.4" r="5"/><circle cx="588.0" cy="789.4" r="5"/><circle cx="619.8" cy="787.4" r="5"/><circle cx="656.9" cy="795.1" r="5"/><circle cx="690.9" cy="791.6" r="5"/><circle cx="719.0" cy="792.9" r="5"/><circle cx="744.0" cy="786.9" r="5"/><circle cx="774.8" cy="788.4" r="5"/><circle cx="812.9" cy="791.6" r="5"/><circle cx="840.7" cy="795.4" r="5"/><circle cx="876.7" cy="788.1" r="5"/><circle cx="906.5" cy="798.9" r="5"/><circle cx="935.1" cy="793.4" r="5"/><circle cx="610.3" cy="822.9" r="5"/><circle cx="635.1" cy="816.9" r="5"/><circle cx="663.6" cy="822.2" r="5"/><circle cx="692.9" cy="825.4" r="5"/><circle cx="736.8" cy="822.2" r="5"/><circle cx="765.8" cy="823.9" r="5"/><circle cx="790.8" cy="821.4" r="5"/><circle cx="822.9" cy="830.0" r="5"/><circle cx="856.9" cy="821.4" r="5"/><circle cx="894.0" cy="824.9" r="5"/><circle cx="597.0" cy="848.7" r="5"/><circle cx="624.8" cy="859.7" r="5"/><circle cx="653.9" cy="858.5" r="5"/><circle cx="687.9" cy="855.2" r="5"/><circle cx="716.0" cy="847.5" r="5"/><circle cx="745.8" cy="855.5" r="5"/><circle cx="777.1" cy="856.5" r="5"/><circle cx="809.4" cy="857.0" r="5"/><circle cx="844.7" cy="856.0" r="5"/><circle cx="606.6" cy="883.5" r="5"/><circle cx="638.9" cy="891.0" r="5"/><circle cx="665.4" cy="890.8" r="5"/><circle cx="695.7" cy="881.8" r="5"/><circle cx="732.5" cy="886.3" r="5"/><circle cx="767.1" cy="892.8" r="5"/><circle cx="795.9" cy="884.0" r="5"/><circle cx="592.5" cy="914.3" r="5"/><circle cx="625.3" cy="915.1" r="5"/><circle cx="660.4" cy="920.8" r="5"/><circle cx="690.7" cy="916.8" r="5"/><circle cx="723.0" cy="916.1" r="5"/><circle cx="754.5" cy="919.3" r="5"/><circle cx="608.6" cy="946.4" r="5"/><circle cx="641.6" cy="949.1" r="5"/><circle cx="671.7" cy="955.6" r="5"/><circle cx="705.7" cy="946.9" r="5"/><circle cx="621.6" cy="983.9" r="5"/><circle cx="656.9" cy="979.9" r="5"/></g>
<g class="d"><circle cx="1207.2" cy="566.5" r="5"/><circle cx="1202.0" cy="600.4" r="5"/><circle cx="1206.5" cy="645.3" r="5"/><circle cx="1224.9" cy="686.7" r="5"/><circle cx="1252.7" cy="723.1" r="5"/><circle cx="1282.1" cy="756.2" r="5"/><circle cx="1313.0" cy="798.7" r="5"/><circle cx="1332.7" cy="836.8" r="5"/><circle cx="1353.0" cy="877.3" r="5"/><circle cx="1379.6" cy="914.5" r="5"/><circle cx="1415.1" cy="942.3" r="5"/><circle cx="1457.8" cy="957.8" r="5"/><circle cx="1503.2" cy="963.5" r="5"/><circle cx="1568.4" cy="968.5" r="5"/><circle cx="1599.1" cy="974.8" r="5"/><circle cx="1640.1" cy="988.1" r="5"/><circle cx="1683.2" cy="1002.2" r="5"/><circle cx="1728.4" cy="1009.0" r="5"/><circle cx="1783.8" cy="998.9" r="5"/><circle cx="1823.4" cy="976.2" r="5"/><circle cx="1858.2" cy="947.0" r="5"/><circle cx="1891.0" cy="918.6" r="5"/><circle cx="1935.0" cy="890.2" r="5"/><circle cx="1974.5" cy="871.0" r="5"/><circle cx="2023.9" cy="842.3" r="5"/><circle cx="2055.9" cy="810.2" r="5"/><circle cx="2076.1" cy="769.8" r="5"/><circle cx="2084.8" cy="724.9" r="5"/><circle cx="2087.7" cy="680.0" r="5"/><circle cx="2091.9" cy="637.6" r="5"/><circle cx="2105.3" cy="586.6" r="5"/><circle cx="2120.0" cy="544.5" r="5"/><circle cx="2131.5" cy="488.5" r="5"/><circle cx="2127.0" cy="443.6" r="5"/><circle cx="2108.6" cy="402.2" r="5"/><circle cx="2080.8" cy="365.8" r="5"/><circle cx="2051.4" cy="332.7" r="5"/><circle cx="2020.5" cy="290.2" r="5"/><circle cx="2000.8" cy="252.1" r="5"/><circle cx="1980.5" cy="211.6" r="5"/><circle cx="1953.9" cy="174.4" r="5"/><circle cx="1918.4" cy="146.6" r="5"/><circle cx="1875.7" cy="131.1" r="5"/><circle cx="1819.0" cy="124.7" r="5"/><circle cx="1775.6" cy="121.8" r="5"/><circle cx="1734.4" cy="114.1" r="5"/><circle cx="1693.4" cy="100.8" r="5"/><circle cx="1639.1" cy="84.0" r="5"/><circle cx="1593.7" cy="80.1" r="5"/><circle cx="1549.7" cy="90.0" r="5"/><circle cx="1510.1" cy="112.7" r="5"/><circle cx="1467.1" cy="149.4" r="5"/><circle cx="1434.1" cy="176.7" r="5"/><circle cx="1398.5" cy="198.7" r="5"/><circle cx="1348.8" cy="222.9" r="5"/><circle cx="1309.6" cy="246.6" r="5"/><circle cx="1277.6" cy="278.7" r="5"/><circle cx="1257.4" cy="319.1" r="5"/><circle cx="1248.7" cy="364.0" r="5"/><circle cx="1245.8" cy="408.9" r="5"/><circle cx="1241.6" cy="451.3" r="5"/><circle cx="1228.2" cy="502.3" r="5"/></g>
<g class="d"><circle cx="1573.1" cy="141.9" r="5"/><circle cx="1604.4" cy="145.1" r="5"/><circle cx="1530.0" cy="164.4" r="5"/><circle cx="1555.1" cy="177.7" r="5"/><circle cx="1585.1" cy="168.9" r="5"/><circle cx="1621.9" cy="173.4" r="5"/><circle cx="1656.5" cy="166.9" r="5"/><circle cx="1511.3" cy="198.2" r="5"/><circle cx="1545.1" cy="204.0" r="5"/><circle cx="1570.6" cy="210.0" r="5"/><circle cx="1607.4" cy="206.5" r="5"/><circle cx="1637.4" cy="207.2" r="5"/><circle cx="1665.6" cy="205.1" r="5"/><circle cx="1463.4" cy="232.5" r="5"/><circle cx="1496.7" cy="228.2" r="5"/><circle cx="1523.8" cy="236.3" r="5"/><circle cx="1552.8" cy="235.3" r="5"/><circle cx="1592.6" cy="231.5" r="5"/><circle cx="1622.9" cy="236.0" r="5"/><circle cx="1650.2" cy="235.5" r="5"/><circle cx="1381.0" cy="264.1" r="5"/><circle cx="1412.8" cy="264.1" r="5"/><circle cx="1449.4" cy="268.1" r="5"/><circle cx="1481.0" cy="263.8" r="5"/><circle cx="1515.5" cy="265.6" r="5"/><circle cx="1544.6" cy="266.1" r="5"/><circle cx="1576.9" cy="263.1" r="5"/><circle cx="1604.6" cy="267.8" r="5"/><circle cx="1631.9" cy="267.3" r="5"/><circle cx="1662.6" cy="263.1" r="5"/><circle cx="1338.0" cy="297.9" r="5"/><circle cx="1368.3" cy="299.6" r="5"/><circle cx="1397.8" cy="293.1" r="5"/><circle cx="1432.9" cy="291.6" r="5"/><circle cx="1469.7" cy="292.3" r="5"/><circle cx="1500.7" cy="297.4" r="5"/><circle cx="1525.8" cy="303.4" r="5"/><circle cx="1554.3" cy="294.9" r="5"/><circle cx="1590.6" cy="300.9" r="5"/><circle cx="1621.9" cy="302.9" r="5"/><circle cx="1649.5" cy="292.6" r="5"/><circle cx="1322.2" cy="326.9" r="5"/><circle cx="1360.0" cy="325.6" r="5"/><circle cx="1392.1" cy="328.7" r="5"/><circle cx="1422.6" cy="326.2" r="5"/><circle cx="1448.4" cy="321.1" r="5"/><circle cx="1476.4" cy="323.9" r="5"/><circle cx="1508.5" cy="331.9" r="5"/><circle cx="1541.3" cy="330.9" r="5"/><circle cx="1570.8" cy="321.6" r="5"/><circle cx="1599.9" cy="328.9" r="5"/><circle cx="1632.2" cy="327.9" r="5"/><circle cx="1668.5" cy="330.2" r="5"/><circle cx="1309.9" cy="364.0" r="5"/><circle cx="1342.7" cy="359.7" r="5"/><circle cx="1376.8" cy="358.7" r="5"/><circle cx="1405.8" cy="357.2" r="5"/><circle cx="1432.1" cy="353.9" r="5"/><circle cx="1464.4" cy="356.9" r="5"/><circle cx="1495.0" cy="366.2" r="5"/><circle cx="1525.0" cy="354.2" r="5"/><circle cx="1558.1" cy="363.0" r="5"/><circle cx="1589.9" cy="356.9" r="5"/><circle cx="1619.7" cy="355.4" r="5"/><circle cx="1654.5" cy="359.0" r="5"/><circle cx="1328.2" cy="395.0" r="5"/><circle cx="1357.3" cy="389.0" r="5"/><circle cx="1390.8" cy="394.3" r="5"/><circle cx="1420.6" cy="384.0" r="5"/><circle cx="1447.2" cy="393.3" r="5"/><circle cx="1476.7" cy="392.8" r="5"/><circle cx="1511.8" cy="389.7" r="5"/><circle cx="1539.0" cy="390.0" r="5"/><circle cx="1573.1" cy="385.5" r="5"/><circle cx="1600.9" cy="387.5" r="5"/><circle cx="1633.7" cy="386.5" r="5"/><circle cx="1670.9" cy="390.8" r="5"/><circle cx="1309.9" cy="418.8" r="5"/><circle cx="1347.0" cy="424.8" r="5"/><circle cx="1378.0" cy="422.6" r="5"/><circle cx="1406.8" cy="416.8" r="5"/><circle cx="1436.6" cy="426.8" r="5"/><circle cx="1463.4" cy="419.8" r="5"/><circle cx="1495.5" cy="423.1" r="5"/><circle cx="1529.8" cy="417.5" r="5"/><circle cx="1561.1" cy="425.6" r="5"/><circle cx="1586.9" cy="415.3" r="5"/><circle cx="1623.9" cy="422.1" r="5"/><circle cx="1652.7" cy="415.0" r="5"/><circle cx="1320.7" cy="451.3" r="5"/><circle cx="1352.3" cy="451.8" r="5"/><circle cx="1385.8" cy="448.1" r="5"/><circle cx="1417.4" cy="451.8" r="5"/><circle cx="1451.9" cy="450.1" r="5"/><circle cx="1478.5" cy="447.8" r="5"/><circle cx="1512.3" cy="455.9" r="5"/><circle cx="1545.3" cy="451.1" r="5"/><circle cx="1579.4" cy="456.9" r="5"/><circle cx="1605.9" cy="444.6" r="5"/><circle cx="1631.9" cy="453.3" r="5"/><circle cx="1663.1" cy="452.3" r="5"/><circle cx="1311.4" cy="478.4" r="5"/><circle cx="1339.5" cy="483.9" r="5"/><circle cx="1374.5" cy="485.6" r="5"/><circle cx="1406.6" cy="483.9" r="5"/><circle cx="1435.6" cy="477.6" r="5"/><circle cx="1464.2" cy="485.1" r="5"/><circle cx="1493.5" cy="487.2" r="5"/><circle cx="1529.3" cy="481.9" r="5"/><circle cx="1557.3" cy="479.4" r="5"/><circle cx="1587.9" cy="486.4" r="5"/><circle cx="1620.7" cy="479.9" r="5"/><circle cx="1647.5" cy="481.9" r="5"/><circle cx="1295.7" cy="516.4" r="5"/><circle cx="1326.5" cy="512.2" r="5"/><circle cx="1357.8" cy="508.9" r="5"/><circle cx="1386.1" cy="512.7" r="5"/><circle cx="1414.9" cy="510.7" r="5"/><circle cx="1444.6" cy="508.7" r="5"/><circle cx="1482.0" cy="514.4" r="5"/><circle cx="1514.0" cy="517.2" r="5"/><circle cx="1541.8" cy="507.7" r="5"/><circle cx="1572.3" cy="520.7" r="5"/><circle cx="1608.9" cy="515.4" r="5"/><circle cx="1639.5" cy="508.7" r="5"/><circle cx="1669.3" cy="511.6" r="5"/><circle cx="1273.4" cy="544.0" r="5"/><circle cx="1309.9" cy="542.5" r="5"/><circle cx="1336.5" cy="547.6" r="5"/><circle cx="1373.8" cy="540.6" r="5"/><circle cx="1407.6" cy="543.2" r="5"/><circle cx="1466.7" cy="539.1" r="5"/><circle cx="1497.0" cy="544.0" r="5"/><circle cx="1526.5" cy="540.9" r="5"/><circle cx="1591.9" cy="544.5" r="5"/><circle cx="1624.7" cy="539.9" r="5"/><circle cx="1605.6" cy="102.1" r="5"/><circle cx="1537.8" cy="123.3" r="5"/><circle cx="1637.9" cy="137.6" r="5"/><circle cx="1669.1" cy="130.6" r="5"/><circle cx="1494.7" cy="151.9" r="5"/><circle cx="1448.9" cy="201.7" r="5"/><circle cx="1477.2" cy="187.7" r="5"/><circle cx="1391.8" cy="230.5" r="5"/><circle cx="1427.4" cy="230.5" r="5"/><circle cx="1341.5" cy="259.0" r="5"/><circle cx="1305.7" cy="287.6" r="5"/><circle cx="1287.9" cy="323.4" r="5"/><circle cx="1277.1" cy="359.2" r="5"/><circle cx="1284.4" cy="388.0" r="5"/><circle cx="1269.9" cy="416.3" r="5"/><circle cx="1280.6" cy="452.1" r="5"/><circle cx="1266.6" cy="480.4" r="5"/><circle cx="1255.9" cy="516.2" r="5"/><circle cx="1241.6" cy="544.6" r="5"/><circle cx="1687.8" cy="172.9" r="5"/><circle cx="1716.1" cy="168.2" r="5"/><circle cx="1695.8" cy="199.5" r="5"/><circle cx="1726.6" cy="203.0" r="5"/><circle cx="1757.7" cy="196.7" r="5"/><circle cx="1786.9" cy="202.2" r="5"/><circle cx="1818.2" cy="199.7" r="5"/><circle cx="1855.8" cy="198.5" r="5"/><circle cx="1883.6" cy="207.2" r="5"/><circle cx="1920.2" cy="202.5" r="5"/><circle cx="1687.8" cy="231.8" r="5"/><circle cx="1715.8" cy="233.0" r="5"/><circle cx="1748.9" cy="235.5" r="5"/><circle cx="1776.7" cy="236.3" r="5"/><circle cx="1806.2" cy="233.3" r="5"/><circle cx="1840.8" cy="231.5" r="5"/><circle cx="1866.1" cy="240.3" r="5"/><circle cx="1904.6" cy="238.0" r="5"/><circle cx="1692.8" cy="271.8" r="5"/><circle cx="1721.8" cy="259.8" r="5"/><circle cx="1754.9" cy="266.1" r="5"/><circle cx="1787.4" cy="268.1" r="5"/><circle cx="1822.5" cy="264.6" r="5"/><circle cx="1848.8" cy="267.3" r="5"/><circle cx="1887.6" cy="263.1" r="5"/><circle cx="1920.2" cy="261.3" r="5"/><circle cx="1678.8" cy="300.6" r="5"/><circle cx="1717.8" cy="289.8" r="5"/><circle cx="1739.1" cy="304.6" r="5"/><circle cx="1772.7" cy="291.8" r="5"/><circle cx="1802.0" cy="294.6" r="5"/><circle cx="1832.8" cy="301.4" r="5"/><circle cx="1869.6" cy="291.1" r="5"/><circle cx="1894.9" cy="300.1" r="5"/><circle cx="1923.7" cy="299.1" r="5"/><circle cx="1959.0" cy="293.1" r="5"/><circle cx="1695.1" cy="322.1" r="5"/><circle cx="1728.6" cy="332.9" r="5"/><circle cx="1764.7" cy="327.2" r="5"/><circle cx="1793.5" cy="322.9" r="5"/><circle cx="1818.5" cy="324.4" r="5"/><circle cx="1850.3" cy="327.7" r="5"/><circle cx="1880.6" cy="325.9" r="5"/><circle cx="1914.9" cy="334.2" r="5"/><circle cx="1943.2" cy="322.9" r="5"/><circle cx="1971.5" cy="324.1" r="5"/><circle cx="1680.8" cy="355.4" r="5"/><circle cx="1716.8" cy="359.7" r="5"/><circle cx="1747.6" cy="359.7" r="5"/><circle cx="1772.9" cy="366.5" r="5"/><circle cx="1800.7" cy="355.9" r="5"/><circle cx="1836.0" cy="359.7" r="5"/><circle cx="1863.8" cy="362.0" r="5"/><circle cx="1890.9" cy="354.7" r="5"/><circle cx="1922.9" cy="361.0" r="5"/><circle cx="1959.5" cy="355.7" r="5"/><circle cx="1995.3" cy="360.7" r="5"/><circle cx="1701.8" cy="383.5" r="5"/><circle cx="1732.6" cy="389.2" r="5"/><circle cx="1760.4" cy="395.3" r="5"/><circle cx="1794.2" cy="396.0" r="5"/><circle cx="1820.5" cy="384.0" r="5"/><circle cx="1855.3" cy="387.0" r="5"/><circle cx="1886.4" cy="395.0" r="5"/><circle cx="1915.6" cy="394.5" r="5"/><circle cx="1947.2" cy="383.0" r="5"/><circle cx="1973.0" cy="392.3" r="5"/><circle cx="2006.0" cy="391.0" r="5"/><circle cx="1685.5" cy="423.8" r="5"/><circle cx="1715.6" cy="419.3" r="5"/><circle cx="1745.9" cy="419.3" r="5"/><circle cx="1772.4" cy="425.8" r="5"/><circle cx="1807.7" cy="422.3" r="5"/><circle cx="1834.8" cy="417.8" r="5"/><circle cx="1862.6" cy="420.0" r="5"/><circle cx="1899.9" cy="425.6" r="5"/><circle cx="1932.9" cy="418.3" r="5"/><circle cx="1959.2" cy="417.0" r="5"/><circle cx="1989.8" cy="424.8" r="5"/><circle cx="2023.8" cy="418.3" r="5"/><circle cx="1700.1" cy="447.6" r="5"/><circle cx="1724.9" cy="458.4" r="5"/><circle cx="1753.9" cy="451.3" r="5"/><circle cx="1791.2" cy="448.8" r="5"/><circle cx="1820.5" cy="451.1" r="5"/><circle cx="1849.8" cy="450.1" r="5"/><circle cx="1879.3" cy="455.6" r="5"/><circle cx="1909.6" cy="451.1" r="5"/><circle cx="1937.9" cy="451.8" r="5"/><circle cx="1970.7" cy="449.8" r="5"/><circle cx="2002.0" cy="455.1" r="5"/><circle cx="2041.3" cy="452.6" r="5"/><circle cx="1680.8" cy="477.4" r="5"/><circle cx="1712.6" cy="487.9" r="5"/><circle cx="1743.6" cy="480.9" r="5"/><circle cx="1772.7" cy="478.6" r="5"/><circle cx="1810.0" cy="479.9" r="5"/><circle cx="1841.0" cy="485.6" r="5"/><circle cx="1866.6" cy="488.7" r="5"/><circle cx="1895.4" cy="479.1" r="5"/><circle cx="1929.7" cy="487.9" r="5"/><circle cx="1958.2" cy="478.6" r="5"/><circle cx="1990.0" cy="483.6" r="5"/><circle cx="2026.1" cy="477.6" r="5"/><circle cx="2058.9" cy="478.4" r="5"/><circle cx="1695.8" cy="517.4" r="5"/><circle cx="1732.1" cy="510.2" r="5"/><circle cx="1763.2" cy="506.9" r="5"/><circle cx="1787.4" cy="514.2" r="5"/><circle cx="1817.0" cy="513.7" r="5"/><circle cx="1848.8" cy="518.5" r="5"/><circle cx="1881.1" cy="510.7" r="5"/><circle cx="1915.1" cy="514.9" r="5"/><circle cx="1947.9" cy="515.7" r="5"/><circle cx="1981.3" cy="515.7" r="5"/><circle cx="2010.8" cy="515.7" r="5"/><circle cx="2041.3" cy="507.9" r="5"/><circle cx="2074.9" cy="516.9" r="5"/><circle cx="1679.3" cy="547.5" r="5"/><circle cx="1711.1" cy="547.5" r="5"/><circle cx="1743.6" cy="540.2" r="5"/><circle cx="1772.9" cy="543.5" r="5"/><circle cx="1807.7" cy="548.5" r="5"/><circle cx="1837.0" cy="541.7" r="5"/><circle cx="1871.1" cy="541.7" r="5"/><circle cx="1897.9" cy="542.5" r="5"/><circle cx="1929.2" cy="548.8" r="5"/><circle cx="1957.2" cy="549.3" r="5"/><circle cx="1987.0" cy="545.5" r="5"/><circle cx="2020.3" cy="543.2" r="5"/><circle cx="2055.4" cy="541.7" r="5"/><circle cx="1705.6" cy="130.6" r="5"/><circle cx="1748.4" cy="144.9" r="5"/><circle cx="1791.7" cy="144.6" r="5"/><circle cx="1834.3" cy="144.9" r="5"/><circle cx="1780.9" cy="166.4" r="5"/><circle cx="1809.2" cy="166.2" r="5"/><circle cx="1873.3" cy="166.2" r="5"/><circle cx="1905.6" cy="173.4" r="5"/><circle cx="1944.7" cy="223.2" r="5"/><circle cx="1966.7" cy="251.8" r="5"/><circle cx="1991.5" cy="287.8" r="5"/><circle cx="2009.5" cy="323.9" r="5"/><circle cx="2037.8" cy="366.2" r="5"/><circle cx="2080.7" cy="395.0" r="5"/><circle cx="2055.6" cy="416.3" r="5"/><circle cx="2091.7" cy="430.6" r="5"/><circle cx="2098.7" cy="473.1" r="5"/><circle cx="2113.2" cy="515.9" r="5"/><circle cx="1437.4" cy="551.0" r="5"/><circle cx="1554.3" cy="550.8" r="5"/><circle cx="1648.7" cy="549.0" r="5"/><circle cx="1263.1" cy="576.3" r="5"/><circle cx="1295.7" cy="574.1" r="5"/><circle cx="1326.0" cy="581.3" r="5"/><circle cx="1353.0" cy="575.1" r="5"/><circle cx="1381.3" cy="573.8" r="5"/><circle cx="1414.4" cy="577.6" r="5"/><circle cx="1452.7" cy="573.3" r="5"/><circle cx="1479.7" cy="570.3" r="5"/><circle cx="1512.8" cy="571.5" r="5"/><circle cx="1538.3" cy="581.8" r="5"/><circle cx="1575.1" cy="575.1" r="5"/><circle cx="1600.4" cy="579.8" r="5"/><circle cx="1631.4" cy="579.1" r="5"/><circle cx="1668.6" cy="574.2" r="5"/><circle cx="1277.4" cy="605.1" r="5"/><circle cx="1307.9" cy="606.4" r="5"/><circle cx="1338.7" cy="614.1" r="5"/><circle cx="1369.0" cy="605.1" r="5"/><circle cx="1404.8" cy="605.6" r="5"/><circle cx="1430.6" cy="610.4" r="5"/><circle cx="1467.2" cy="608.9" r="5"/><circle cx="1492.5" cy="609.9" r="5"/><circle cx="1523.8" cy="607.6" r="5"/><circle cx="1553.6" cy="610.4" r="5"/><circle cx="1583.9" cy="605.6" r="5"/><circle cx="1618.9" cy="604.1" r="5"/><circle cx="1649.2" cy="605.1" r="5"/><circle cx="1294.2" cy="643.2" r="5"/><circle cx="1321.7" cy="639.9" r="5"/><circle cx="1361.3" cy="643.4" r="5"/><circle cx="1389.6" cy="630.9" r="5"/><circle cx="1419.9" cy="642.4" r="5"/><circle cx="1445.9" cy="632.1" r="5"/><circle cx="1479.2" cy="638.7" r="5"/><circle cx="1511.0" cy="638.2" r="5"/><circle cx="1542.8" cy="635.9" r="5"/><circle cx="1570.1" cy="641.9" r="5"/><circle cx="1605.6" cy="640.4" r="5"/><circle cx="1634.4" cy="640.2" r="5"/><circle cx="1661.1" cy="635.3" r="5"/><circle cx="1306.7" cy="671.7" r="5"/><circle cx="1345.7" cy="673.2" r="5"/><circle cx="1375.5" cy="669.7" r="5"/><circle cx="1403.6" cy="662.4" r="5"/><circle cx="1437.1" cy="669.7" r="5"/><circle cx="1462.9" cy="666.4" r="5"/><circle cx="1498.5" cy="665.7" r="5"/><circle cx="1525.3" cy="675.7" r="5"/><circle cx="1552.8" cy="666.9" r="5"/><circle cx="1585.6" cy="671.5" r="5"/><circle cx="1614.4" cy="665.9" r="5"/><circle cx="1654.7" cy="664.4" r="5"/><circle cx="1325.5" cy="694.5" r="5"/><circle cx="1359.8" cy="706.8" r="5"/><circle cx="1391.8" cy="698.0" r="5"/><circle cx="1417.4" cy="694.7" r="5"/><circle cx="1450.2" cy="705.8" r="5"/><circle cx="1476.2" cy="694.2" r="5"/><circle cx="1505.5" cy="695.5" r="5"/><circle cx="1537.3" cy="705.0" r="5"/><circle cx="1570.8" cy="699.2" r="5"/><circle cx="1603.4" cy="698.5" r="5"/><circle cx="1630.9" cy="693.2" r="5"/><circle cx="1667.5" cy="699.5" r="5"/><circle cx="1333.2" cy="728.8" r="5"/><circle cx="1378.0" cy="728.3" r="5"/><circle cx="1406.8" cy="726.5" r="5"/><circle cx="1437.1" cy="732.8" r="5"/><circle cx="1463.9" cy="735.6" r="5"/><circle cx="1492.5" cy="725.8" r="5"/><circle cx="1527.5" cy="732.1" r="5"/><circle cx="1561.6" cy="725.8" r="5"/><circle cx="1592.1" cy="732.8" r="5"/><circle cx="1619.9" cy="734.3" r="5"/><circle cx="1645.7" cy="723.0" r="5"/><circle cx="1358.0" cy="759.1" r="5"/><circle cx="1384.8" cy="757.6" r="5"/><circle cx="1422.6" cy="761.8" r="5"/><circle cx="1448.7" cy="769.1" r="5"/><circle cx="1481.0" cy="756.6" r="5"/><circle cx="1507.5" cy="756.8" r="5"/><circle cx="1539.0" cy="766.1" r="5"/><circle cx="1576.4" cy="760.8" r="5"/><circle cx="1606.9" cy="759.3" r="5"/><circle cx="1640.5" cy="755.3" r="5"/><circle cx="1665.8" cy="763.8" r="5"/><circle cx="1368.5" cy="791.9" r="5"/><circle cx="1401.3" cy="792.1" r="5"/><circle cx="1435.9" cy="797.4" r="5"/><circle cx="1472.9" cy="796.4" r="5"/><circle cx="1501.0" cy="791.4" r="5"/><circle cx="1530.8" cy="794.9" r="5"/><circle cx="1562.8" cy="792.6" r="5"/><circle cx="1588.1" cy="795.4" r="5"/><circle cx="1615.7" cy="794.6" r="5"/><circle cx="1651.0" cy="793.1" r="5"/><circle cx="1417.1" cy="827.9" r="5"/><circle cx="1448.7" cy="819.7" r="5"/><circle cx="1483.7" cy="826.2" r="5"/><circle cx="1514.5" cy="822.4" r="5"/><circle cx="1545.1" cy="822.2" r="5"/><circle cx="1571.1" cy="825.7" r="5"/><circle cx="1602.1" cy="827.2" r="5"/><circle cx="1638.7" cy="817.9" r="5"/><circle cx="1666.0" cy="829.2" r="5"/><circle cx="1434.1" cy="854.7" r="5"/><circle cx="1467.2" cy="847.2" r="5"/><circle cx="1491.7" cy="860.3" r="5"/><circle cx="1525.0" cy="859.5" r="5"/><circle cx="1552.1" cy="853.0" r="5"/><circle cx="1593.1" cy="858.0" r="5"/><circle cx="1620.4" cy="854.7" r="5"/><circle cx="1651.0" cy="857.7" r="5"/><circle cx="1449.7" cy="889.8" r="5"/><circle cx="1474.9" cy="883.0" r="5"/><circle cx="1508.7" cy="884.8" r="5"/><circle cx="1542.8" cy="889.3" r="5"/><circle cx="1570.6" cy="886.3" r="5"/><circle cx="1602.4" cy="889.8" r="5"/><circle cx="1631.7" cy="882.8" r="5"/><circle cx="1668.1" cy="882.0" r="5"/><circle cx="1618.7" cy="915.8" r="5"/><circle cx="1648.7" cy="918.3" r="5"/><circle cx="1231.1" cy="580.3" r="5"/><circle cx="1231.1" cy="623.1" r="5"/><circle cx="1252.3" cy="665.7" r="5"/><circle cx="1280.9" cy="694.7" r="5"/><circle cx="1298.7" cy="730.5" r="5"/><circle cx="1323.7" cy="766.4" r="5"/><circle cx="1377.3" cy="830.5" r="5"/><circle cx="1348.7" cy="830.5" r="5"/><circle cx="1395.1" cy="866.0" r="5"/><circle cx="1409.6" cy="894.6" r="5"/><circle cx="1430.9" cy="922.8" r="5"/><circle cx="1466.7" cy="923.1" r="5"/><circle cx="1502.2" cy="923.1" r="5"/><circle cx="1531.0" cy="923.1" r="5"/><circle cx="1566.8" cy="922.8" r="5"/><circle cx="1594.9" cy="937.4" r="5"/><circle cx="1491.7" cy="944.6" r="5"/><circle cx="1530.5" cy="951.6" r="5"/><circle cx="1627.2" cy="958.7" r="5"/><circle cx="1669.1" cy="958.7" r="5"/><circle cx="1695.8" cy="579.8" r="5"/><circle cx="1732.9" cy="570.3" r="5"/><circle cx="1760.4" cy="573.8" r="5"/><circle cx="1794.2" cy="575.1" r="5"/><circle cx="1821.5" cy="576.8" r="5"/><circle cx="1851.8" cy="569.8" r="5"/><circle cx="1884.9" cy="575.3" r="5"/><circle cx="1917.7" cy="578.1" r="5"/><circle cx="1949.7" cy="579.1" r="5"/><circle cx="1978.0" cy="572.1" r="5"/><circle cx="2007.3" cy="573.3" r="5"/><circle cx="2035.8" cy="570.8" r="5"/><circle cx="1681.8" cy="608.6" r="5"/><circle cx="1715.6" cy="607.4" r="5"/><circle cx="1747.4" cy="601.6" r="5"/><circle cx="1775.2" cy="606.9" r="5"/><circle cx="1802.7" cy="610.4" r="5"/><circle cx="1838.0" cy="603.1" r="5"/><circle cx="1868.1" cy="604.1" r="5"/><circle cx="1894.6" cy="606.6" r="5"/><circle cx="1925.7" cy="610.1" r="5"/><circle cx="1957.0" cy="602.8" r="5"/><circle cx="1990.3" cy="601.8" r="5"/><circle cx="2027.1" cy="611.4" r="5"/><circle cx="1692.1" cy="634.1" r="5"/><circle cx="1729.1" cy="636.2" r="5"/><circle cx="1756.9" cy="632.4" r="5"/><circle cx="1792.5" cy="635.6" r="5"/><circle cx="1826.0" cy="635.1" r="5"/><circle cx="1850.8" cy="639.4" r="5"/><circle cx="1877.1" cy="641.9" r="5"/><circle cx="1908.9" cy="638.7" r="5"/><circle cx="1946.9" cy="634.9" r="5"/><circle cx="1972.7" cy="641.2" r="5"/><circle cx="2005.0" cy="633.6" r="5"/><circle cx="2042.8" cy="636.2" r="5"/><circle cx="1679.8" cy="669.5" r="5"/><circle cx="1711.8" cy="673.2" r="5"/><circle cx="1738.9" cy="663.9" r="5"/><circle cx="1779.4" cy="663.9" r="5"/><circle cx="1807.0" cy="663.2" r="5"/><circle cx="1835.8" cy="671.5" r="5"/><circle cx="1863.6" cy="670.0" r="5"/><circle cx="1902.9" cy="664.4" r="5"/><circle cx="1930.7" cy="665.7" r="5"/><circle cx="1963.7" cy="672.0" r="5"/><circle cx="1991.5" cy="661.4" r="5"/><circle cx="2021.6" cy="670.0" r="5"/><circle cx="1696.8" cy="701.5" r="5"/><circle cx="1731.6" cy="696.5" r="5"/><circle cx="1756.9" cy="692.0" r="5"/><circle cx="1790.7" cy="699.7" r="5"/><circle cx="1821.5" cy="703.5" r="5"/><circle cx="1856.1" cy="701.8" r="5"/><circle cx="1886.1" cy="695.5" r="5"/><circle cx="1913.9" cy="704.8" r="5"/><circle cx="1943.9" cy="699.5" r="5"/><circle cx="1975.0" cy="700.5" r="5"/><circle cx="2003.8" cy="694.2" r="5"/><circle cx="1683.8" cy="728.8" r="5"/><circle cx="1717.3" cy="727.8" r="5"/><circle cx="1743.9" cy="736.3" r="5"/><circle cx="1770.9" cy="722.5" r="5"/><circle cx="1801.5" cy="729.0" r="5"/><circle cx="1840.5" cy="725.3" r="5"/><circle cx="1868.6" cy="733.8" r="5"/><circle cx="1898.9" cy="737.6" r="5"/><circle cx="1926.9" cy="734.1" r="5"/><circle cx="1962.2" cy="727.8" r="5"/><circle cx="1992.3" cy="726.0" r="5"/><circle cx="2026.8" cy="733.1" r="5"/><circle cx="1692.1" cy="757.8" r="5"/><circle cx="1727.6" cy="763.8" r="5"/><circle cx="1761.2" cy="760.8" r="5"/><circle cx="1786.4" cy="755.1" r="5"/><circle cx="1817.7" cy="757.1" r="5"/><circle cx="1845.8" cy="760.8" r="5"/><circle cx="1879.8" cy="762.8" r="5"/><circle cx="1918.9" cy="763.6" r="5"/><circle cx="1946.2" cy="761.8" r="5"/><circle cx="1974.5" cy="756.6" r="5"/><circle cx="2009.8" cy="762.3" r="5"/><circle cx="2043.8" cy="766.4" r="5"/><circle cx="1678.0" cy="789.4" r="5"/><circle cx="1709.8" cy="787.4" r="5"/><circle cx="1746.9" cy="795.1" r="5"/><circle cx="1780.9" cy="791.6" r="5"/><circle cx="1809.0" cy="792.9" r="5"/><circle cx="1834.0" cy="786.9" r="5"/><circle cx="1864.8" cy="788.4" r="5"/><circle cx="1902.9" cy="791.6" r="5"/><circle cx="1930.7" cy="795.4" r="5"/><circle cx="1966.7" cy="788.1" r="5"/><circle cx="1700.3" cy="822.9" r="5"/><circle cx="1725.1" cy="816.9" r="5"/><circle cx="1753.6" cy="822.2" r="5"/><circle cx="1782.9" cy="825.4" r="5"/><circle cx="1826.8" cy="822.2" r="5"/><circle cx="1855.8" cy="823.9" r="5"/><circle cx="1880.8" cy="821.4" r="5"/><circle cx="1912.9" cy="830.0" r="5"/><circle cx="1946.9" cy="821.4" r="5"/><circle cx="1687.0" cy="848.7" r="5"/><circle cx="1714.8" cy="859.7" r="5"/><circle cx="1743.9" cy="858.5" r="5"/><circle cx="1777.9" cy="855.2" r="5"/><circle cx="1806.0" cy="847.5" r="5"/><circle cx="1835.8" cy="855.5" r="5"/><circle cx="1867.1" cy="856.5" r="5"/><circle cx="1696.6" cy="883.5" r="5"/><circle cx="1728.9" cy="891.0" r="5"/><circle cx="1755.4" cy="890.8" r="5"/><circle cx="1785.7" cy="881.8" r="5"/><circle cx="1822.5" cy="886.3" r="5"/><circle cx="1682.5" cy="914.3" r="5"/><circle cx="1715.3" cy="915.1" r="5"/><circle cx="1750.4" cy="920.8" r="5"/><circle cx="1780.7" cy="916.8" r="5"/><circle cx="1813.0" cy="916.1" r="5"/><circle cx="1731.6" cy="949.1" r="5"/><circle cx="2094.9" cy="551.3" r="5"/><circle cx="2073.6" cy="580.3" r="5"/><circle cx="2066.4" cy="608.9" r="5"/><circle cx="2059.4" cy="665.9" r="5"/><circle cx="2048.6" cy="702.0" r="5"/><circle cx="2059.6" cy="737.6" r="5"/><circle cx="1998.8" cy="802.2" r="5"/><circle cx="2027.1" cy="802.2" r="5"/><circle cx="1987.8" cy="837.5" r="5"/><circle cx="1898.6" cy="858.7" r="5"/><circle cx="1941.7" cy="858.7" r="5"/><circle cx="1859.3" cy="894.6" r="5"/><circle cx="1891.6" cy="887.3" r="5"/><circle cx="1844.8" cy="922.8" r="5"/><circle cx="1698.8" cy="944.6" r="5"/><circle cx="1766.4" cy="965.7" r="5"/><circle cx="1802.2" cy="951.6" r="5"/><circle cx="1698.6" cy="987.4" r="5"/></g>
<g class="d"><circle cx="516.7" cy="1334.5" r="5"/><circle cx="529.9" cy="1342.8" r="5"/><circle cx="577.3" cy="1374.8" r="5"/><circle cx="501.6" cy="1376.8" r="5"/><circle cx="526.7" cy="1397.1" r="5"/><circle cx="452.8" cy="1408.6" r="5"/><circle cx="361.2" cy="1422.7" r="5"/><circle cx="521.2" cy="1430.7" r="5"/><circle cx="480.1" cy="1442.9" r="5"/><circle cx="485.9" cy="1444.4" r="5"/><circle cx="405.5" cy="1460.0" r="5"/><circle cx="416.0" cy="1464.5" r="5"/><circle cx="295.3" cy="1471.7" r="5"/><circle cx="500.9" cy="1472.7" r="5"/><circle cx="330.1" cy="1482.2" r="5"/><circle cx="407.7" cy="1483.2" r="5"/><circle cx="498.4" cy="1486.5" r="5"/><circle cx="432.5" cy="1489.8" r="5"/><circle cx="434.0" cy="1491.3" r="5"/><circle cx="568.2" cy="1494.5" r="5"/><circle cx="579.0" cy="1495.3" r="5"/><circle cx="552.7" cy="1504.5" r="5"/><circle cx="377.4" cy="1511.5" r="5"/><circle cx="291.5" cy="1514.0" r="5"/><circle cx="393.0" cy="1515.5" r="5"/><circle cx="465.8" cy="1514.0" r="5"/><circle cx="335.1" cy="1518.8" r="5"/><circle cx="374.7" cy="1519.3" r="5"/><circle cx="414.5" cy="1523.8" r="5"/><circle cx="544.4" cy="1531.1" r="5"/><circle cx="296.3" cy="1534.8" r="5"/><circle cx="378.9" cy="1538.3" r="5"/><circle cx="340.4" cy="1540.1" r="5"/><circle cx="476.3" cy="1539.1" r="5"/><circle cx="512.9" cy="1541.3" r="5"/><circle cx="411.0" cy="1542.1" r="5"/><circle cx="329.9" cy="1547.1" r="5"/><circle cx="364.7" cy="1549.6" r="5"/><circle cx="389.7" cy="1551.9" r="5"/><circle cx="457.1" cy="1552.6" r="5"/><circle cx="257.2" cy="1553.4" r="5"/><circle cx="495.4" cy="1555.1" r="5"/><circle cx="404.7" cy="1560.4" r="5"/><circle cx="396.2" cy="1565.1" r="5"/><circle cx="253.0" cy="1566.6" r="5"/><circle cx="439.8" cy="1566.6" r="5"/><circle cx="483.6" cy="1570.9" r="5"/><circle cx="507.6" cy="1569.9" r="5"/><circle cx="536.9" cy="1571.1" r="5"/><circle cx="548.2" cy="1571.1" r="5"/><circle cx="559.2" cy="1571.9" r="5"/><circle cx="418.7" cy="1574.9" r="5"/><circle cx="450.8" cy="1578.4" r="5"/><circle cx="488.1" cy="1579.1" r="5"/><circle cx="435.3" cy="1590.4" r="5"/><circle cx="303.6" cy="1599.7" r="5"/><circle cx="368.7" cy="1602.2" r="5"/><circle cx="432.5" cy="1603.7" r="5"/><circle cx="470.1" cy="1604.9" r="5"/><circle cx="306.3" cy="1607.4" r="5"/><circle cx="539.4" cy="1607.7" r="5"/><circle cx="546.4" cy="1608.4" r="5"/><circle cx="458.8" cy="1609.7" r="5"/><circle cx="275.8" cy="1611.4" r="5"/><circle cx="382.4" cy="1612.9" r="5"/><circle cx="228.5" cy="1616.7" r="5"/><circle cx="347.1" cy="1622.7" r="5"/><circle cx="657.9" cy="1174.8" r="5"/><circle cx="615.1" cy="1270.2" r="5"/><circle cx="640.1" cy="1265.7" r="5"/><circle cx="620.8" cy="1280.9" r="5"/><circle cx="721.7" cy="1359.3" r="5"/><circle cx="658.9" cy="1364.6" r="5"/><circle cx="684.7" cy="1374.1" r="5"/><circle cx="584.8" cy="1392.4" r="5"/><circle cx="632.1" cy="1397.4" r="5"/><circle cx="637.9" cy="1404.4" r="5"/><circle cx="677.9" cy="1397.4" r="5"/><circle cx="802.6" cy="1404.9" r="5"/><circle cx="750.5" cy="1412.6" r="5"/><circle cx="650.1" cy="1416.4" r="5"/><circle cx="700.7" cy="1416.6" r="5"/><circle cx="603.3" cy="1417.9" r="5"/><circle cx="608.6" cy="1438.9" r="5"/><circle cx="586.8" cy="1447.7" r="5"/><circle cx="677.7" cy="1448.7" r="5"/><circle cx="672.2" cy="1451.2" r="5"/><circle cx="757.0" cy="1449.9" r="5"/><circle cx="766.8" cy="1453.7" r="5"/><circle cx="732.5" cy="1456.2" r="5"/><circle cx="801.9" cy="1460.7" r="5"/><circle cx="748.8" cy="1469.7" r="5"/><circle cx="769.1" cy="1469.2" r="5"/><circle cx="596.5" cy="1475.5" r="5"/><circle cx="705.5" cy="1478.0" r="5"/><circle cx="619.6" cy="1479.7" r="5"/><circle cx="740.5" cy="1480.5" r="5"/><circle cx="848.2" cy="1487.8" r="5"/><circle cx="688.7" cy="1489.0" r="5"/><circle cx="642.4" cy="1491.0" r="5"/><circle cx="761.0" cy="1490.3" r="5"/><circle cx="719.7" cy="1495.8" r="5"/><circle cx="626.8" cy="1496.0" r="5"/><circle cx="832.2" cy="1498.8" r="5"/><circle cx="726.7" cy="1511.0" r="5"/><circle cx="709.0" cy="1512.0" r="5"/><circle cx="783.1" cy="1511.5" r="5"/><circle cx="787.1" cy="1511.0" r="5"/><circle cx="648.1" cy="1512.3" r="5"/><circle cx="661.1" cy="1515.0" r="5"/><circle cx="867.7" cy="1515.5" r="5"/><circle cx="696.2" cy="1520.8" r="5"/><circle cx="810.1" cy="1522.1" r="5"/><circle cx="713.7" cy="1524.1" r="5"/><circle cx="736.3" cy="1524.3" r="5"/><circle cx="743.0" cy="1525.6" r="5"/><circle cx="754.8" cy="1528.6" r="5"/><circle cx="793.3" cy="1527.8" r="5"/><circle cx="724.7" cy="1530.1" r="5"/><circle cx="718.0" cy="1532.3" r="5"/><circle cx="593.3" cy="1531.1" r="5"/><circle cx="665.4" cy="1531.1" r="5"/><circle cx="779.6" cy="1532.3" r="5"/><circle cx="843.9" cy="1533.1" r="5"/><circle cx="825.1" cy="1539.1" r="5"/><circle cx="811.9" cy="1542.3" r="5"/><circle cx="850.7" cy="1543.3" r="5"/><circle cx="756.0" cy="1545.1" r="5"/><circle cx="818.4" cy="1548.8" r="5"/><circle cx="666.2" cy="1550.1" r="5"/><circle cx="789.6" cy="1550.6" r="5"/><circle cx="837.7" cy="1552.1" r="5"/><circle cx="599.5" cy="1555.1" r="5"/><circle cx="791.3" cy="1554.6" r="5"/><circle cx="797.1" cy="1560.4" r="5"/><circle cx="821.6" cy="1570.6" r="5"/><circle cx="632.8" cy="1574.9" r="5"/><circle cx="901.0" cy="1577.9" r="5"/><circle cx="930.6" cy="1576.6" r="5"/><circle cx="946.6" cy="1575.6" r="5"/><circle cx="864.5" cy="1579.1" r="5"/><circle cx="658.1" cy="1583.2" r="5"/><circle cx="914.5" cy="1591.2" r="5"/><circle cx="800.9" cy="1594.2" r="5"/><circle cx="828.9" cy="1593.4" r="5"/><circle cx="678.7" cy="1597.2" r="5"/><circle cx="704.5" cy="1595.9" r="5"/><circle cx="888.0" cy="1597.2" r="5"/><circle cx="587.5" cy="1599.9" r="5"/><circle cx="904.0" cy="1606.9" r="5"/><circle cx="852.9" cy="1607.4" r="5"/><circle cx="851.7" cy="1610.9" r="5"/><circle cx="960.4" cy="1608.9" r="5"/><circle cx="873.0" cy="1612.9" r="5"/><circle cx="941.3" cy="1613.2" r="5"/><circle cx="783.6" cy="1617.2" r="5"/><circle cx="814.6" cy="1616.5" r="5"/><circle cx="912.8" cy="1617.5" r="5"/><circle cx="884.5" cy="1620.2" r="5"/><circle cx="894.8" cy="1620.0" r="5"/><circle cx="899.5" cy="1624.0" r="5"/><circle cx="881.5" cy="1625.7" r="5"/><circle cx="685.2" cy="1624.7" r="5"/><circle cx="968.6" cy="1625.2" r="5"/><circle cx="925.8" cy="1629.5" r="5"/><circle cx="516.7" cy="1935.1" r="5"/><circle cx="529.9" cy="1926.8" r="5"/><circle cx="577.3" cy="1894.8" r="5"/><circle cx="501.6" cy="1892.8" r="5"/><circle cx="526.7" cy="1872.5" r="5"/><circle cx="452.8" cy="1861.0" r="5"/><circle cx="361.2" cy="1846.9" r="5"/><circle cx="521.2" cy="1838.9" r="5"/><circle cx="480.1" cy="1826.7" r="5"/><circle cx="485.9" cy="1825.2" r="5"/><circle cx="405.5" cy="1809.6" r="5"/><circle cx="416.0" cy="1805.1" r="5"/><circle cx="295.3" cy="1797.9" r="5"/><circle cx="500.9" cy="1796.9" r="5"/><circle cx="330.1" cy="1787.4" r="5"/><circle cx="407.7" cy="1786.4" r="5"/><circle cx="498.4" cy="1783.1" r="5"/><circle cx="432.5" cy="1779.8" r="5"/><circle cx="434.0" cy="1778.3" r="5"/><circle cx="568.2" cy="1775.1" r="5"/><circle cx="579.0" cy="1774.3" r="5"/><circle cx="552.7" cy="1765.1" r="5"/><circle cx="377.4" cy="1758.1" r="5"/><circle cx="291.5" cy="1755.6" r="5"/><circle cx="393.0" cy="1754.1" r="5"/><circle cx="465.8" cy="1755.6" r="5"/><circle cx="335.1" cy="1750.8" r="5"/><circle cx="374.7" cy="1750.3" r="5"/><circle cx="414.5" cy="1745.8" r="5"/><circle cx="544.4" cy="1738.5" r="5"/><circle cx="296.3" cy="1734.8" r="5"/><circle cx="378.9" cy="1731.3" r="5"/><circle cx="340.4" cy="1729.5" r="5"/><circle cx="476.3" cy="1730.5" r="5"/><circle cx="512.9" cy="1728.3" r="5"/><circle cx="411.0" cy="1727.5" r="5"/><circle cx="329.9" cy="1722.5" r="5"/><circle cx="364.7" cy="1720.0" r="5"/><circle cx="389.7" cy="1717.7" r="5"/><circle cx="457.1" cy="1717.0" r="5"/><circle cx="257.2" cy="1716.2" r="5"/><circle cx="495.4" cy="1714.5" r="5"/><circle cx="404.7" cy="1709.2" r="5"/><circle cx="396.2" cy="1704.5" r="5"/><circle cx="253.0" cy="1703.0" r="5"/><circle cx="439.8" cy="1703.0" r="5"/><circle cx="483.6" cy="1698.7" r="5"/><circle cx="507.6" cy="1699.7" r="5"/><circle cx="536.9" cy="1698.5" r="5"/><circle cx="548.2" cy="1698.5" r="5"/><circle cx="559.2" cy="1697.7" r="5"/><circle cx="418.7" cy="1694.7" r="5"/><circle cx="450.8" cy="1691.2" r="5"/><circle cx="488.1" cy="1690.5" r="5"/><circle cx="435.3" cy="1679.2" r="5"/><circle cx="303.6" cy="1669.9" r="5"/><circle cx="368.7" cy="1667.4" r="5"/><circle cx="432.5" cy="1665.9" r="5"/><circle cx="470.1" cy="1664.7" r="5"/><circle cx="306.3" cy="1662.2" r="5"/><circle cx="539.4" cy="1661.9" r="5"/><circle cx="546.4" cy="1661.2" r="5"/><circle cx="458.8" cy="1659.9" r="5"/><circle cx="275.8" cy="1658.2" r="5"/><circle cx="382.4" cy="1656.7" r="5"/><circle cx="228.5" cy="1652.9" r="5"/><circle cx="347.1" cy="1646.9" r="5"/><circle cx="657.9" cy="2094.8" r="5"/><circle cx="615.1" cy="1999.4" r="5"/><circle cx="640.1" cy="2003.9" r="5"/><circle cx="620.8" cy="1988.7" r="5"/><circle cx="721.7" cy="1910.3" r="5"/><circle cx="658.9" cy="1905.0" r="5"/><circle cx="684.7" cy="1895.5" r="5"/><circle cx="584.8" cy="1877.2" r="5"/><circle cx="632.1" cy="1872.2" r="5"/><circle cx="637.9" cy="1865.2" r="5"/><circle cx="677.9" cy="1872.2" r="5"/><circle cx="802.6" cy="1864.7" r="5"/><circle cx="750.5" cy="1857.0" r="5"/><circle cx="650.1" cy="1853.2" r="5"/><circle cx="700.7" cy="1853.0" r="5"/><circle cx="603.3" cy="1851.7" r="5"/><circle cx="608.6" cy="1830.7" r="5"/><circle cx="586.8" cy="1821.9" r="5"/><circle cx="677.7" cy="1820.9" r="5"/><circle cx="672.2" cy="1818.4" r="5"/><circle cx="757.0" cy="1819.7" r="5"/><circle cx="766.8" cy="1815.9" r="5"/><circle cx="732.5" cy="1813.4" r="5"/><circle cx="801.9" cy="1808.9" r="5"/><circle cx="748.8" cy="1799.9" r="5"/><circle cx="769.1" cy="1800.4" r="5"/><circle cx="596.5" cy="1794.1" r="5"/><circle cx="705.5" cy="1791.6" r="5"/><circle cx="619.6" cy="1789.9" r="5"/><circle cx="740.5" cy="1789.1" r="5"/><circle cx="848.2" cy="1781.8" r="5"/><circle cx="688.7" cy="1780.6" r="5"/><circle cx="642.4" cy="1778.6" r="5"/><circle cx="761.0" cy="1779.3" r="5"/><circle cx="719.7" cy="1773.8" r="5"/><circle cx="626.8" cy="1773.6" r="5"/><circle cx="832.2" cy="1770.8" r="5"/><circle cx="726.7" cy="1758.6" r="5"/><circle cx="709.0" cy="1757.6" r="5"/><circle cx="783.1" cy="1758.1" r="5"/><circle cx="787.1" cy="1758.6" r="5"/><circle cx="648.1" cy="1757.3" r="5"/><circle cx="661.1" cy="1754.6" r="5"/><circle cx="867.7" cy="1754.1" r="5"/><circle cx="696.2" cy="1748.8" r="5"/><circle cx="810.1" cy="1747.5" r="5"/><circle cx="713.7" cy="1745.5" r="5"/><circle cx="736.3" cy="1745.3" r="5"/><circle cx="743.0" cy="1744.0" r="5"/><circle cx="754.8" cy="1741.0" r="5"/><circle cx="793.3" cy="1741.8" r="5"/><circle cx="724.7" cy="1739.5" r="5"/><circle cx="718.0" cy="1737.3" r="5"/><circle cx="593.3" cy="1738.5" r="5"/><circle cx="665.4" cy="1738.5" r="5"/><circle cx="779.6" cy="1737.3" r="5"/><circle cx="843.9" cy="1736.5" r="5"/><circle cx="825.1" cy="1730.5" r="5"/><circle cx="811.9" cy="1727.3" r="5"/><circle cx="850.7" cy="1726.3" r="5"/><circle cx="756.0" cy="1724.5" r="5"/><circle cx="818.4" cy="1720.8" r="5"/><circle cx="666.2" cy="1719.5" r="5"/><circle cx="789.6" cy="1719.0" r="5"/><circle cx="837.7" cy="1717.5" r="5"/><circle cx="599.5" cy="1714.5" r="5"/><circle cx="791.3" cy="1715.0" r="5"/><circle cx="797.1" cy="1709.2" r="5"/><circle cx="821.6" cy="1699.0" r="5"/><circle cx="632.8" cy="1694.7" r="5"/><circle cx="901.0" cy="1691.7" r="5"/><circle cx="930.6" cy="1693.0" r="5"/><circle cx="946.6" cy="1694.0" r="5"/><circle cx="864.5" cy="1690.5" r="5"/><circle cx="658.1" cy="1686.4" r="5"/><circle cx="914.5" cy="1678.4" r="5"/><circle cx="800.9" cy="1675.4" r="5"/><circle cx="828.9" cy="1676.2" r="5"/><circle cx="678.7" cy="1672.4" r="5"/><circle cx="704.5" cy="1673.7" r="5"/><circle cx="888.0" cy="1672.4" r="5"/><circle cx="587.5" cy="1669.7" r="5"/><circle cx="904.0" cy="1662.7" r="5"/><circle cx="852.9" cy="1662.2" r="5"/><circle cx="851.7" cy="1658.7" r="5"/><circle cx="960.4" cy="1660.7" r="5"/><circle cx="873.0" cy="1656.7" r="5"/><circle cx="941.3" cy="1656.4" r="5"/><circle cx="783.6" cy="1652.4" r="5"/><circle cx="814.6" cy="1653.1" r="5"/><circle cx="912.8" cy="1652.1" r="5"/><circle cx="884.5" cy="1649.4" r="5"/><circle cx="894.8" cy="1649.6" r="5"/><circle cx="899.5" cy="1645.6" r="5"/><circle cx="881.5" cy="1643.9" r="5"/><circle cx="685.2" cy="1644.9" r="5"/><circle cx="968.6" cy="1644.4" r="5"/><circle cx="925.8" cy="1640.1" r="5"/><circle cx="200.0" cy="1634.8" r="5"/><circle cx="204.2" cy="1634.8" r="5"/><circle cx="208.5" cy="1634.8" r="5"/><circle cx="212.7" cy="1634.8" r="5"/><circle cx="217.0" cy="1634.8" r="5"/><circle cx="221.2" cy="1634.8" r="5"/><circle cx="225.5" cy="1634.8" r="5"/><circle cx="229.7" cy="1634.8" r="5"/><circle cx="244.2" cy="1634.8" r="5"/><circle cx="248.5" cy="1634.8" r="5"/><circle cx="252.8" cy="1634.8" r="5"/><circle cx="257.1" cy="1634.8" r="5"/><circle cx="261.5" cy="1634.8" r="5"/><circle cx="265.8" cy="1634.8" r="5"/><circle cx="270.1" cy="1634.8" r="5"/><circle cx="274.4" cy="1634.8" r="5"/><circle cx="278.7" cy="1634.8" r="5"/><circle cx="283.0" cy="1634.8" r="5"/><circle cx="287.4" cy="1634.8" r="5"/><circle cx="291.7" cy="1634.8" r="5"/><circle cx="296.0" cy="1634.8" r="5"/><circle cx="300.3" cy="1634.8" r="5"/><circle cx="314.4" cy="1634.8" r="5"/><circle cx="318.9" cy="1634.8" r="5"/><circle cx="323.3" cy="1634.8" r="5"/><circle cx="327.8" cy="1634.8" r="5"/><circle cx="332.2" cy="1634.8" r="5"/><circle cx="336.7" cy="1634.8" r="5"/><circle cx="341.2" cy="1634.8" r="5"/><circle cx="345.6" cy="1634.8" r="5"/><circle cx="350.1" cy="1634.8" r="5"/><circle cx="354.6" cy="1634.8" r="5"/><circle cx="359.0" cy="1634.8" r="5"/><circle cx="363.5" cy="1634.8" r="5"/><circle cx="367.9" cy="1634.8" r="5"/><circle cx="372.4" cy="1634.8" r="5"/><circle cx="387.0" cy="1634.8" r="5"/><circle cx="390.7" cy="1634.8" r="5"/><circle cx="394.4" cy="1634.8" r="5"/><circle cx="398.0" cy="1634.8" r="5"/><circle cx="401.7" cy="1634.8" r="5"/><circle cx="414.2" cy="1634.8" r="5"/><circle cx="417.9" cy="1634.8" r="5"/><circle cx="421.7" cy="1634.8" r="5"/><circle cx="425.4" cy="1634.8" r="5"/><circle cx="439.1" cy="1634.8" r="5"/><circle cx="443.2" cy="1634.8" r="5"/><circle cx="447.3" cy="1634.8" r="5"/><circle cx="451.4" cy="1634.8" r="5"/><circle cx="455.5" cy="1634.8" r="5"/><circle cx="459.6" cy="1634.8" r="5"/><circle cx="463.8" cy="1634.8" r="5"/><circle cx="467.9" cy="1634.8" r="5"/><circle cx="472.0" cy="1634.8" r="5"/><circle cx="476.1" cy="1634.8" r="5"/><circle cx="480.2" cy="1634.8" r="5"/><circle cx="484.3" cy="1634.8" r="5"/><circle cx="493.6" cy="1634.8" r="5"/><circle cx="493.9" cy="1634.8" r="5"/><circle cx="503.4" cy="1634.8" r="5"/><circle cx="507.8" cy="1634.8" r="5"/><circle cx="512.3" cy="1634.8" r="5"/><circle cx="516.8" cy="1634.8" r="5"/><circle cx="521.2" cy="1634.8" r="5"/><circle cx="525.6" cy="1634.8" r="5"/><circle cx="530.1" cy="1634.8" r="5"/><circle cx="534.5" cy="1634.8" r="5"/><circle cx="539.0" cy="1634.8" r="5"/><circle cx="543.5" cy="1634.8" r="5"/><circle cx="547.9" cy="1634.8" r="5"/><circle cx="552.4" cy="1634.8" r="5"/><circle cx="556.8" cy="1634.8" r="5"/><circle cx="561.2" cy="1634.8" r="5"/><circle cx="565.7" cy="1634.8" r="5"/><circle cx="570.1" cy="1634.8" r="5"/><circle cx="574.6" cy="1634.8" r="5"/><circle cx="579.0" cy="1634.8" r="5"/><circle cx="583.5" cy="1634.8" r="5"/><circle cx="599.0" cy="1634.8" r="5"/><circle cx="603.3" cy="1634.8" r="5"/><circle cx="607.6" cy="1634.8" r="5"/><circle cx="612.0" cy="1634.8" r="5"/><circle cx="616.3" cy="1634.8" r="5"/><circle cx="620.6" cy="1634.8" r="5"/><circle cx="625.0" cy="1634.8" r="5"/><circle cx="629.3" cy="1634.8" r="5"/><circle cx="633.6" cy="1634.8" r="5"/><circle cx="647.0" cy="1634.8" r="5"/><circle cx="651.2" cy="1634.8" r="5"/><circle cx="655.4" cy="1634.8" r="5"/><circle cx="659.6" cy="1634.8" r="5"/><circle cx="663.8" cy="1634.8" r="5"/><circle cx="668.0" cy="1634.8" r="5"/><circle cx="672.2" cy="1634.8" r="5"/><circle cx="683.0" cy="1634.8" r="5"/><circle cx="687.2" cy="1634.8" r="5"/><circle cx="691.3" cy="1634.8" r="5"/><circle cx="695.5" cy="1634.8" r="5"/><circle cx="699.7" cy="1634.8" r="5"/><circle cx="703.8" cy="1634.8" r="5"/><circle cx="708.0" cy="1634.8" r="5"/><circle cx="720.4" cy="1634.8" r="5"/><circle cx="724.6" cy="1634.8" r="5"/><circle cx="728.9" cy="1634.8" r="5"/><circle cx="733.1" cy="1634.8" r="5"/><circle cx="737.3" cy="1634.8" r="5"/><circle cx="741.5" cy="1634.8" r="5"/><circle cx="745.8" cy="1634.8" r="5"/><circle cx="750.0" cy="1634.8" r="5"/><circle cx="754.2" cy="1634.8" r="5"/><circle cx="758.5" cy="1634.8" r="5"/><circle cx="762.7" cy="1634.8" r="5"/><circle cx="766.9" cy="1634.8" r="5"/><circle cx="771.1" cy="1634.8" r="5"/><circle cx="775.4" cy="1634.8" r="5"/><circle cx="779.6" cy="1634.8" r="5"/><circle cx="804.7" cy="1634.8" r="5"/><circle cx="818.6" cy="1634.8" r="5"/><circle cx="823.0" cy="1634.8" r="5"/><circle cx="827.4" cy="1634.8" r="5"/><circle cx="831.9" cy="1634.8" r="5"/><circle cx="836.3" cy="1634.8" r="5"/><circle cx="840.7" cy="1634.8" r="5"/><circle cx="845.1" cy="1634.8" r="5"/><circle cx="849.5" cy="1634.8" r="5"/><circle cx="854.0" cy="1634.8" r="5"/><circle cx="858.4" cy="1634.8" r="5"/><circle cx="862.8" cy="1634.8" r="5"/><circle cx="867.2" cy="1634.8" r="5"/><circle cx="871.6" cy="1634.8" r="5"/><circle cx="876.1" cy="1634.8" r="5"/><circle cx="880.5" cy="1634.8" r="5"/><circle cx="884.9" cy="1634.8" r="5"/><circle cx="889.3" cy="1634.8" r="5"/><circle cx="893.7" cy="1634.8" r="5"/><circle cx="898.2" cy="1634.8" r="5"/><circle cx="902.6" cy="1634.8" r="5"/><circle cx="907.0" cy="1634.8" r="5"/><circle cx="911.4" cy="1634.8" r="5"/><circle cx="915.8" cy="1634.8" r="5"/><circle cx="920.3" cy="1634.8" r="5"/><circle cx="924.7" cy="1634.8" r="5"/><circle cx="929.1" cy="1634.8" r="5"/><circle cx="933.5" cy="1634.8" r="5"/><circle cx="937.9" cy="1634.8" r="5"/><circle cx="942.4" cy="1634.8" r="5"/><circle cx="946.8" cy="1634.8" r="5"/><circle cx="951.2" cy="1634.8" r="5"/><circle cx="955.6" cy="1634.8" r="5"/><circle cx="960.0" cy="1634.8" r="5"/><circle cx="964.5" cy="1634.8" r="5"/><circle cx="968.9" cy="1634.8" r="5"/><circle cx="973.3" cy="1634.8" r="5"/><circle cx="977.7" cy="1634.8" r="5"/><circle cx="982.1" cy="1634.8" r="5"/><circle cx="986.6" cy="1634.8" r="5"/><circle cx="991.0" cy="1634.8" r="5"/><circle cx="995.4" cy="1634.8" r="5"/><circle cx="999.8" cy="1634.8" r="5"/><circle cx="1004.2" cy="1634.8" r="5"/><circle cx="1008.7" cy="1634.8" r="5"/><circle cx="1013.1" cy="1634.8" r="5"/><circle cx="1017.5" cy="1634.8" r="5"/><circle cx="1021.9" cy="1634.8" r="5"/><circle cx="1026.3" cy="1634.8" r="5"/><circle cx="1030.8" cy="1634.8" r="5"/><circle cx="1035.2" cy="1634.8" r="5"/><circle cx="1039.6" cy="1634.8" r="5"/></g>
<g class="d"><circle cx="1471.2" cy="1317.0" r="5"/><circle cx="1613.2" cy="1323.0" r="5"/><circle cx="1542.1" cy="1328.5" r="5"/><circle cx="1591.6" cy="1364.8" r="5"/><circle cx="1500.7" cy="1379.3" r="5"/><circle cx="1607.7" cy="1380.8" r="5"/><circle cx="1644.2" cy="1384.3" r="5"/><circle cx="1524.5" cy="1416.4" r="5"/><circle cx="1630.7" cy="1425.7" r="5"/><circle cx="1552.1" cy="1428.7" r="5"/><circle cx="1668.5" cy="1440.9" r="5"/><circle cx="1570.8" cy="1454.2" r="5"/><circle cx="1657.0" cy="1459.0" r="5"/><circle cx="1481.5" cy="1467.0" r="5"/><circle cx="1489.5" cy="1469.7" r="5"/><circle cx="1558.8" cy="1470.0" r="5"/><circle cx="1436.6" cy="1477.7" r="5"/><circle cx="1598.4" cy="1480.2" r="5"/><circle cx="1485.2" cy="1492.0" r="5"/><circle cx="1589.9" cy="1491.5" r="5"/><circle cx="1615.7" cy="1493.0" r="5"/><circle cx="1649.0" cy="1493.0" r="5"/><circle cx="1660.7" cy="1502.3" r="5"/><circle cx="1618.2" cy="1505.0" r="5"/><circle cx="1628.2" cy="1505.3" r="5"/><circle cx="1534.0" cy="1509.5" r="5"/><circle cx="1466.2" cy="1513.0" r="5"/><circle cx="1505.2" cy="1526.1" r="5"/><circle cx="1511.3" cy="1530.3" r="5"/><circle cx="1561.3" cy="1532.1" r="5"/><circle cx="1389.8" cy="1538.3" r="5"/><circle cx="1351.5" cy="1544.1" r="5"/><circle cx="1419.9" cy="1548.1" r="5"/><circle cx="1531.5" cy="1547.8" r="5"/><circle cx="1537.3" cy="1550.6" r="5"/><circle cx="1500.5" cy="1553.1" r="5"/><circle cx="1583.4" cy="1552.9" r="5"/><circle cx="1629.7" cy="1555.6" r="5"/><circle cx="1639.5" cy="1554.9" r="5"/><circle cx="1320.0" cy="1555.9" r="5"/><circle cx="1564.8" cy="1558.1" r="5"/><circle cx="1383.8" cy="1564.4" r="5"/><circle cx="1604.1" cy="1571.1" r="5"/><circle cx="1653.2" cy="1576.1" r="5"/><circle cx="1661.6" cy="1575.1" r="5"/><circle cx="1470.2" cy="1586.2" r="5"/><circle cx="1544.6" cy="1588.2" r="5"/><circle cx="1344.5" cy="1592.9" r="5"/><circle cx="1375.5" cy="1591.9" r="5"/><circle cx="1396.3" cy="1590.9" r="5"/><circle cx="1645.0" cy="1590.9" r="5"/><circle cx="1361.0" cy="1603.2" r="5"/><circle cx="1556.1" cy="1603.2" r="5"/><circle cx="1387.8" cy="1608.9" r="5"/><circle cx="1458.7" cy="1608.7" r="5"/><circle cx="1633.9" cy="1607.9" r="5"/><circle cx="1585.4" cy="1622.7" r="5"/><circle cx="1339.7" cy="1631.0" r="5"/><circle cx="1755.9" cy="1224.1" r="5"/><circle cx="1737.1" cy="1305.7" r="5"/><circle cx="1876.3" cy="1327.0" r="5"/><circle cx="1841.5" cy="1347.0" r="5"/><circle cx="1740.6" cy="1350.3" r="5"/><circle cx="1701.3" cy="1353.3" r="5"/><circle cx="1724.9" cy="1359.3" r="5"/><circle cx="1830.5" cy="1383.6" r="5"/><circle cx="1782.4" cy="1387.6" r="5"/><circle cx="1860.1" cy="1389.9" r="5"/><circle cx="1820.5" cy="1399.9" r="5"/><circle cx="1816.2" cy="1402.9" r="5"/><circle cx="1734.1" cy="1405.1" r="5"/><circle cx="1673.3" cy="1412.1" r="5"/><circle cx="1712.6" cy="1419.6" r="5"/><circle cx="1845.8" cy="1420.6" r="5"/><circle cx="1868.1" cy="1432.2" r="5"/><circle cx="1808.0" cy="1433.9" r="5"/><circle cx="1831.8" cy="1433.9" r="5"/><circle cx="1764.7" cy="1434.9" r="5"/><circle cx="1848.0" cy="1437.2" r="5"/><circle cx="1790.7" cy="1448.4" r="5"/><circle cx="1836.0" cy="1448.9" r="5"/><circle cx="1749.4" cy="1450.7" r="5"/><circle cx="1813.0" cy="1465.5" r="5"/><circle cx="1795.2" cy="1467.0" r="5"/><circle cx="1768.4" cy="1467.7" r="5"/><circle cx="1779.4" cy="1477.5" r="5"/><circle cx="1786.4" cy="1477.5" r="5"/><circle cx="1898.4" cy="1480.0" r="5"/><circle cx="1914.9" cy="1478.7" r="5"/><circle cx="1873.6" cy="1481.5" r="5"/><circle cx="1697.1" cy="1483.0" r="5"/><circle cx="1907.9" cy="1483.2" r="5"/><circle cx="1933.7" cy="1484.5" r="5"/><circle cx="1813.7" cy="1485.8" r="5"/><circle cx="1678.8" cy="1488.0" r="5"/><circle cx="1917.9" cy="1488.3" r="5"/><circle cx="1890.4" cy="1489.3" r="5"/><circle cx="1926.2" cy="1492.8" r="5"/><circle cx="1680.0" cy="1494.8" r="5"/><circle cx="1799.5" cy="1497.3" r="5"/><circle cx="1722.3" cy="1498.0" r="5"/><circle cx="1784.9" cy="1499.0" r="5"/><circle cx="1870.8" cy="1511.8" r="5"/><circle cx="1683.5" cy="1513.8" r="5"/><circle cx="1858.6" cy="1515.5" r="5"/><circle cx="1944.2" cy="1515.8" r="5"/><circle cx="1751.6" cy="1517.1" r="5"/><circle cx="1920.9" cy="1518.1" r="5"/><circle cx="1772.4" cy="1518.8" r="5"/><circle cx="1760.7" cy="1520.3" r="5"/><circle cx="1688.0" cy="1520.8" r="5"/><circle cx="1745.9" cy="1526.1" r="5"/><circle cx="1939.7" cy="1527.3" r="5"/><circle cx="1862.1" cy="1528.8" r="5"/><circle cx="1706.8" cy="1532.3" r="5"/><circle cx="1744.4" cy="1532.3" r="5"/><circle cx="1718.1" cy="1540.6" r="5"/><circle cx="1827.5" cy="1541.8" r="5"/><circle cx="1880.1" cy="1542.8" r="5"/><circle cx="1776.9" cy="1546.1" r="5"/><circle cx="1897.1" cy="1546.6" r="5"/><circle cx="1903.4" cy="1548.1" r="5"/><circle cx="1955.0" cy="1548.3" r="5"/><circle cx="1682.8" cy="1552.1" r="5"/><circle cx="1819.7" cy="1555.1" r="5"/><circle cx="2002.0" cy="1555.6" r="5"/><circle cx="1702.6" cy="1558.9" r="5"/><circle cx="1805.7" cy="1562.1" r="5"/><circle cx="1695.6" cy="1562.9" r="5"/><circle cx="1688.8" cy="1566.6" r="5"/><circle cx="1935.7" cy="1566.4" r="5"/><circle cx="1944.7" cy="1566.6" r="5"/><circle cx="1962.2" cy="1567.1" r="5"/><circle cx="1971.2" cy="1571.4" r="5"/><circle cx="1976.2" cy="1575.9" r="5"/><circle cx="2021.8" cy="1579.1" r="5"/><circle cx="1674.8" cy="1581.2" r="5"/><circle cx="1851.3" cy="1583.7" r="5"/><circle cx="1991.3" cy="1583.7" r="5"/><circle cx="2012.6" cy="1584.9" r="5"/><circle cx="1886.9" cy="1587.4" r="5"/><circle cx="1915.9" cy="1596.4" r="5"/><circle cx="1947.4" cy="1597.2" r="5"/><circle cx="1800.5" cy="1597.2" r="5"/><circle cx="1844.5" cy="1598.4" r="5"/><circle cx="1994.5" cy="1595.9" r="5"/><circle cx="1964.7" cy="1600.2" r="5"/><circle cx="2008.8" cy="1599.7" r="5"/><circle cx="1999.3" cy="1601.9" r="5"/><circle cx="1950.2" cy="1603.2" r="5"/><circle cx="1736.9" cy="1606.2" r="5"/><circle cx="1987.8" cy="1606.4" r="5"/><circle cx="1959.7" cy="1610.7" r="5"/><circle cx="1892.9" cy="1613.5" r="5"/><circle cx="2050.9" cy="1610.9" r="5"/><circle cx="2005.0" cy="1616.5" r="5"/><circle cx="2037.6" cy="1615.0" r="5"/><circle cx="2030.6" cy="1616.7" r="5"/><circle cx="2039.3" cy="1617.2" r="5"/><circle cx="1880.8" cy="1618.7" r="5"/><circle cx="1984.3" cy="1623.7" r="5"/><circle cx="1710.6" cy="1626.5" r="5"/><circle cx="2056.6" cy="1627.7" r="5"/><circle cx="2013.8" cy="1630.2" r="5"/><circle cx="2100.7" cy="1631.2" r="5"/><circle cx="1471.2" cy="1952.6" r="5"/><circle cx="1613.2" cy="1946.6" r="5"/><circle cx="1542.1" cy="1941.1" r="5"/><circle cx="1591.6" cy="1904.8" r="5"/><circle cx="1500.7" cy="1890.3" r="5"/><circle cx="1607.7" cy="1888.8" r="5"/><circle cx="1644.2" cy="1885.3" r="5"/><circle cx="1524.5" cy="1853.2" r="5"/><circle cx="1630.7" cy="1843.9" r="5"/><circle cx="1552.1" cy="1840.9" r="5"/><circle cx="1668.5" cy="1828.7" r="5"/><circle cx="1570.8" cy="1815.4" r="5"/><circle cx="1657.0" cy="1810.6" r="5"/><circle cx="1481.5" cy="1802.6" r="5"/><circle cx="1489.5" cy="1799.9" r="5"/><circle cx="1558.8" cy="1799.6" r="5"/><circle cx="1436.6" cy="1791.9" r="5"/><circle cx="1598.4" cy="1789.4" r="5"/><circle cx="1485.2" cy="1777.6" r="5"/><circle cx="1589.9" cy="1778.1" r="5"/><circle cx="1615.7" cy="1776.6" r="5"/><circle cx="1649.0" cy="1776.6" r="5"/><circle cx="1660.7" cy="1767.3" r="5"/><circle cx="1618.2" cy="1764.6" r="5"/><circle cx="1628.2" cy="1764.3" r="5"/><circle cx="1534.0" cy="1760.1" r="5"/><circle cx="1466.2" cy="1756.6" r="5"/><circle cx="1505.2" cy="1743.5" r="5"/><circle cx="1511.3" cy="1739.3" r="5"/><circle cx="1561.3" cy="1737.5" r="5"/><circle cx="1389.8" cy="1731.3" r="5"/><circle cx="1351.5" cy="1725.5" r="5"/><circle cx="1419.9" cy="1721.5" r="5"/><circle cx="1531.5" cy="1721.8" r="5"/><circle cx="1537.3" cy="1719.0" r="5"/><circle cx="1500.5" cy="1716.5" r="5"/><circle cx="1583.4" cy="1716.7" r="5"/><circle cx="1629.7" cy="1714.0" r="5"/><circle cx="1639.5" cy="1714.7" r="5"/><circle cx="1320.0" cy="1713.7" r="5"/><circle cx="1564.8" cy="1711.5" r="5"/><circle cx="1383.8" cy="1705.2" r="5"/><circle cx="1604.1" cy="1698.5" r="5"/><circle cx="1653.2" cy="1693.5" r="5"/><circle cx="1661.6" cy="1694.5" r="5"/><circle cx="1470.2" cy="1683.4" r="5"/><circle cx="1544.6" cy="1681.4" r="5"/><circle cx="1344.5" cy="1676.7" r="5"/><circle cx="1375.5" cy="1677.7" r="5"/><circle cx="1396.3" cy="1678.7" r="5"/><circle cx="1645.0" cy="1678.7" r="5"/><circle cx="1361.0" cy="1666.4" r="5"/><circle cx="1556.1" cy="1666.4" r="5"/><circle cx="1387.8" cy="1660.7" r="5"/><circle cx="1458.7" cy="1660.9" r="5"/><circle cx="1633.9" cy="1661.7" r="5"/><circle cx="1585.4" cy="1646.9" r="5"/><circle cx="1339.7" cy="1638.6" r="5"/><circle cx="1755.9" cy="2045.5" r="5"/><circle cx="1737.1" cy="1963.9" r="5"/><circle cx="1876.3" cy="1942.6" r="5"/><circle cx="1841.5" cy="1922.6" r="5"/><circle cx="1740.6" cy="1919.3" r="5"/><circle cx="1701.3" cy="1916.3" r="5"/><circle cx="1724.9" cy="1910.3" r="5"/><circle cx="1830.5" cy="1886.0" r="5"/><circle cx="1782.4" cy="1882.0" r="5"/><circle cx="1860.1" cy="1879.7" r="5"/><circle cx="1820.5" cy="1869.7" r="5"/><circle cx="1816.2" cy="1866.7" r="5"/><circle cx="1734.1" cy="1864.5" r="5"/><circle cx="1673.3" cy="1857.5" r="5"/><circle cx="1712.6" cy="1850.0" r="5"/><circle cx="1845.8" cy="1849.0" r="5"/><circle cx="1868.1" cy="1837.4" r="5"/><circle cx="1808.0" cy="1835.7" r="5"/><circle cx="1831.8" cy="1835.7" r="5"/><circle cx="1764.7" cy="1834.7" r="5"/><circle cx="1848.0" cy="1832.4" r="5"/><circle cx="1790.7" cy="1821.2" r="5"/><circle cx="1836.0" cy="1820.7" r="5"/><circle cx="1749.4" cy="1818.9" r="5"/><circle cx="1813.0" cy="1804.1" r="5"/><circle cx="1795.2" cy="1802.6" r="5"/><circle cx="1768.4" cy="1801.9" r="5"/><circle cx="1779.4" cy="1792.1" r="5"/><circle cx="1786.4" cy="1792.1" r="5"/><circle cx="1898.4" cy="1789.6" r="5"/><circle cx="1914.9" cy="1790.9" r="5"/><circle cx="1873.6" cy="1788.1" r="5"/><circle cx="1697.1" cy="1786.6" r="5"/><circle cx="1907.9" cy="1786.4" r="5"/><circle cx="1933.7" cy="1785.1" r="5"/><circle cx="1813.7" cy="1783.8" r="5"/><circle cx="1678.8" cy="1781.6" r="5"/><circle cx="1917.9" cy="1781.3" r="5"/><circle cx="1890.4" cy="1780.3" r="5"/><circle cx="1926.2" cy="1776.8" r="5"/><circle cx="1680.0" cy="1774.8" r="5"/><circle cx="1799.5" cy="1772.3" r="5"/><circle cx="1722.3" cy="1771.6" r="5"/><circle cx="1784.9" cy="1770.6" r="5"/><circle cx="1870.8" cy="1757.8" r="5"/><circle cx="1683.5" cy="1755.8" r="5"/><circle cx="1858.6" cy="1754.1" r="5"/><circle cx="1944.2" cy="1753.8" r="5"/><circle cx="1751.6" cy="1752.5" r="5"/><circle cx="1920.9" cy="1751.5" r="5"/><circle cx="1772.4" cy="1750.8" r="5"/><circle cx="1760.7" cy="1749.3" r="5"/><circle cx="1688.0" cy="1748.8" r="5"/><circle cx="1745.9" cy="1743.5" r="5"/><circle cx="1939.7" cy="1742.3" r="5"/><circle cx="1862.1" cy="1740.8" r="5"/><circle cx="1706.8" cy="1737.3" r="5"/><circle cx="1744.4" cy="1737.3" r="5"/><circle cx="1718.1" cy="1729.0" r="5"/><circle cx="1827.5" cy="1727.8" r="5"/><circle cx="1880.1" cy="1726.8" r="5"/><circle cx="1776.9" cy="1723.5" r="5"/><circle cx="1897.1" cy="1723.0" r="5"/><circle cx="1903.4" cy="1721.5" r="5"/><circle cx="1955.0" cy="1721.3" r="5"/><circle cx="1682.8" cy="1717.5" r="5"/><circle cx="1819.7" cy="1714.5" r="5"/><circle cx="2002.0" cy="1714.0" r="5"/><circle cx="1702.6" cy="1710.7" r="5"/><circle cx="1805.7" cy="1707.5" r="5"/><circle cx="1695.6" cy="1706.7" r="5"/><circle cx="1688.8" cy="1703.0" r="5"/><circle cx="1935.7" cy="1703.2" r="5"/><circle cx="1944.7" cy="1703.0" r="5"/><circle cx="1962.2" cy="1702.5" r="5"/><circle cx="1971.2" cy="1698.2" r="5"/><circle cx="1976.2" cy="1693.7" r="5"/><circle cx="2021.8" cy="1690.5" r="5"/><circle cx="1674.8" cy="1688.4" r="5"/><circle cx="1851.3" cy="1685.9" r="5"/><circle cx="1991.3" cy="1685.9" r="5"/><circle cx="2012.6" cy="1684.7" r="5"/><circle cx="1886.9" cy="1682.2" r="5"/><circle cx="1915.9" cy="1673.2" r="5"/><circle cx="1947.4" cy="1672.4" r="5"/><circle cx="1800.5" cy="1672.4" r="5"/><circle cx="1844.5" cy="1671.2" r="5"/><circle cx="1994.5" cy="1673.7" r="5"/><circle cx="1964.7" cy="1669.4" r="5"/><circle cx="2008.8" cy="1669.9" r="5"/><circle cx="1999.3" cy="1667.7" r="5"/><circle cx="1950.2" cy="1666.4" r="5"/><circle cx="1736.9" cy="1663.4" r="5"/><circle cx="1987.8" cy="1663.2" r="5"/><circle cx="1959.7" cy="1658.9" r="5"/><circle cx="1892.9" cy="1656.1" r="5"/><circle cx="2050.9" cy="1658.7" r="5"/><circle cx="2005.0" cy="1653.1" r="5"/><circle cx="2037.6" cy="1654.6" r="5"/><circle cx="2030.6" cy="1652.9" r="5"/><circle cx="2039.3" cy="1652.4" r="5"/><circle cx="1880.8" cy="1650.9" r="5"/><circle cx="1984.3" cy="1645.9" r="5"/><circle cx="1710.6" cy="1643.1" r="5"/><circle cx="2056.6" cy="1641.9" r="5"/><circle cx="2013.8" cy="1639.4" r="5"/><circle cx="2100.7" cy="1638.4" r="5"/><circle cx="1290.0" cy="1634.8" r="5"/><circle cx="1293.8" cy="1634.8" r="5"/><circle cx="1297.7" cy="1634.8" r="5"/><circle cx="1301.5" cy="1634.8" r="5"/><circle cx="1305.4" cy="1634.8" r="5"/><circle cx="1309.2" cy="1634.8" r="5"/><circle cx="1313.1" cy="1634.8" r="5"/><circle cx="1323.1" cy="1634.8" r="5"/><circle cx="1334.2" cy="1634.8" r="5"/><circle cx="1338.5" cy="1634.8" r="5"/><circle cx="1342.7" cy="1634.8" r="5"/><circle cx="1347.0" cy="1634.8" r="5"/><circle cx="1351.2" cy="1634.8" r="5"/><circle cx="1355.5" cy="1634.8" r="5"/><circle cx="1359.7" cy="1634.8" r="5"/><circle cx="1364.0" cy="1634.8" r="5"/><circle cx="1368.2" cy="1634.8" r="5"/><circle cx="1372.5" cy="1634.8" r="5"/><circle cx="1376.7" cy="1634.8" r="5"/><circle cx="1381.0" cy="1634.8" r="5"/><circle cx="1394.3" cy="1634.8" r="5"/><circle cx="1398.8" cy="1634.8" r="5"/><circle cx="1403.2" cy="1634.8" r="5"/><circle cx="1407.7" cy="1634.8" r="5"/><circle cx="1412.2" cy="1634.8" r="5"/><circle cx="1416.6" cy="1634.8" r="5"/><circle cx="1421.1" cy="1634.8" r="5"/><circle cx="1425.5" cy="1634.8" r="5"/><circle cx="1430.0" cy="1634.8" r="5"/><circle cx="1434.5" cy="1634.8" r="5"/><circle cx="1438.9" cy="1634.8" r="5"/><circle cx="1443.4" cy="1634.8" r="5"/><circle cx="1447.9" cy="1634.8" r="5"/><circle cx="1452.3" cy="1634.8" r="5"/><circle cx="1456.8" cy="1634.8" r="5"/><circle cx="1461.2" cy="1634.8" r="5"/><circle cx="1465.7" cy="1634.8" r="5"/><circle cx="1470.2" cy="1634.8" r="5"/><circle cx="1474.6" cy="1634.8" r="5"/><circle cx="1479.1" cy="1634.8" r="5"/><circle cx="1483.6" cy="1634.8" r="5"/><circle cx="1488.0" cy="1634.8" r="5"/><circle cx="1492.5" cy="1634.8" r="5"/><circle cx="1497.0" cy="1634.8" r="5"/><circle cx="1501.4" cy="1634.8" r="5"/><circle cx="1505.9" cy="1634.8" r="5"/><circle cx="1510.3" cy="1634.8" r="5"/><circle cx="1514.8" cy="1634.8" r="5"/><circle cx="1519.3" cy="1634.8" r="5"/><circle cx="1523.7" cy="1634.8" r="5"/><circle cx="1528.2" cy="1634.8" r="5"/><circle cx="1539.3" cy="1634.8" r="5"/><circle cx="1550.3" cy="1634.8" r="5"/><circle cx="1561.5" cy="1634.8" r="5"/><circle cx="1571.8" cy="1634.8" r="5"/><circle cx="1576.2" cy="1634.8" r="5"/><circle cx="1580.6" cy="1634.8" r="5"/><circle cx="1585.0" cy="1634.8" r="5"/><circle cx="1589.3" cy="1634.8" r="5"/><circle cx="1593.7" cy="1634.8" r="5"/><circle cx="1598.1" cy="1634.8" r="5"/><circle cx="1602.5" cy="1634.8" r="5"/><circle cx="1606.9" cy="1634.8" r="5"/><circle cx="1611.2" cy="1634.8" r="5"/><circle cx="1615.6" cy="1634.8" r="5"/><circle cx="1620.0" cy="1634.8" r="5"/><circle cx="1624.4" cy="1634.8" r="5"/><circle cx="1636.2" cy="1634.8" r="5"/><circle cx="1639.8" cy="1634.8" r="5"/><circle cx="1643.5" cy="1634.8" r="5"/><circle cx="1647.1" cy="1634.8" r="5"/><circle cx="1650.7" cy="1634.8" r="5"/><circle cx="1670.5" cy="1634.8" r="5"/><circle cx="1688.3" cy="1634.8" r="5"/><circle cx="1690.8" cy="1634.8" r="5"/><circle cx="1693.3" cy="1634.8" r="5"/><circle cx="1709.6" cy="1634.8" r="5"/><circle cx="1713.9" cy="1634.8" r="5"/><circle cx="1718.3" cy="1634.8" r="5"/><circle cx="1722.6" cy="1634.8" r="5"/><circle cx="1727.0" cy="1634.8" r="5"/><circle cx="1731.3" cy="1634.8" r="5"/><circle cx="1735.6" cy="1634.8" r="5"/><circle cx="1740.0" cy="1634.8" r="5"/><circle cx="1744.3" cy="1634.8" r="5"/><circle cx="1748.7" cy="1634.8" r="5"/><circle cx="1753.0" cy="1634.8" r="5"/><circle cx="1757.3" cy="1634.8" r="5"/><circle cx="1761.7" cy="1634.8" r="5"/><circle cx="1766.0" cy="1634.8" r="5"/><circle cx="1770.4" cy="1634.8" r="5"/><circle cx="1774.7" cy="1634.8" r="5"/><circle cx="1788.2" cy="1634.8" r="5"/><circle cx="1792.6" cy="1634.8" r="5"/><circle cx="1797.0" cy="1634.8" r="5"/><circle cx="1801.4" cy="1634.8" r="5"/><circle cx="1805.8" cy="1634.8" r="5"/><circle cx="1810.2" cy="1634.8" r="5"/><circle cx="1814.6" cy="1634.8" r="5"/><circle cx="1819.0" cy="1634.8" r="5"/><circle cx="1823.4" cy="1634.8" r="5"/><circle cx="1827.8" cy="1634.8" r="5"/><circle cx="1832.2" cy="1634.8" r="5"/><circle cx="1836.6" cy="1634.8" r="5"/><circle cx="1841.0" cy="1634.8" r="5"/><circle cx="1845.4" cy="1634.8" r="5"/><circle cx="1849.8" cy="1634.8" r="5"/><circle cx="1854.2" cy="1634.8" r="5"/><circle cx="1858.6" cy="1634.8" r="5"/><circle cx="1863.0" cy="1634.8" r="5"/><circle cx="1867.5" cy="1634.8" r="5"/><circle cx="1871.9" cy="1634.8" r="5"/><circle cx="1876.3" cy="1634.8" r="5"/><circle cx="1880.7" cy="1634.8" r="5"/><circle cx="1885.1" cy="1634.8" r="5"/><circle cx="1889.5" cy="1634.8" r="5"/><circle cx="1893.9" cy="1634.8" r="5"/><circle cx="1898.3" cy="1634.8" r="5"/><circle cx="1902.7" cy="1634.8" r="5"/><circle cx="1907.1" cy="1634.8" r="5"/><circle cx="1911.5" cy="1634.8" r="5"/><circle cx="1915.9" cy="1634.8" r="5"/><circle cx="1920.3" cy="1634.8" r="5"/><circle cx="1924.7" cy="1634.8" r="5"/><circle cx="1929.1" cy="1634.8" r="5"/><circle cx="1933.5" cy="1634.8" r="5"/><circle cx="1937.9" cy="1634.8" r="5"/><circle cx="1942.3" cy="1634.8" r="5"/><circle cx="1952.6" cy="1634.8" r="5"/><circle cx="1957.1" cy="1634.8" r="5"/><circle cx="1961.6" cy="1634.8" r="5"/><circle cx="1966.0" cy="1634.8" r="5"/><circle cx="1970.5" cy="1634.8" r="5"/><circle cx="1975.0" cy="1634.8" r="5"/><circle cx="1979.5" cy="1634.8" r="5"/><circle cx="1984.0" cy="1634.8" r="5"/><circle cx="1988.4" cy="1634.8" r="5"/><circle cx="1992.9" cy="1634.8" r="5"/><circle cx="1997.4" cy="1634.8" r="5"/><circle cx="2007.7" cy="1634.8" r="5"/><circle cx="2012.1" cy="1634.8" r="5"/><circle cx="2016.5" cy="1634.8" r="5"/><circle cx="2020.8" cy="1634.8" r="5"/><circle cx="2025.2" cy="1634.8" r="5"/><circle cx="2029.6" cy="1634.8" r="5"/><circle cx="2034.0" cy="1634.8" r="5"/><circle cx="2038.4" cy="1634.8" r="5"/><circle cx="2042.7" cy="1634.8" r="5"/><circle cx="2047.1" cy="1634.8" r="5"/><circle cx="2051.5" cy="1634.8" r="5"/><circle cx="2055.9" cy="1634.8" r="5"/><circle cx="2060.2" cy="1634.8" r="5"/><circle cx="2064.6" cy="1634.8" r="5"/><circle cx="2069.0" cy="1634.8" r="5"/><circle cx="2073.4" cy="1634.8" r="5"/><circle cx="2077.8" cy="1634.8" r="5"/><circle cx="2082.1" cy="1634.8" r="5"/><circle cx="2086.5" cy="1634.8" r="5"/><circle cx="2090.9" cy="1634.8" r="5"/><circle cx="2095.3" cy="1634.8" r="5"/><circle cx="2099.7" cy="1634.8" r="5"/><circle cx="2104.0" cy="1634.8" r="5"/><circle cx="2108.4" cy="1634.8" r="5"/><circle cx="2112.8" cy="1634.8" r="5"/><circle cx="2117.2" cy="1634.8" r="5"/><circle cx="2121.5" cy="1634.8" r="5"/><circle cx="2125.9" cy="1634.8" r="5"/><circle cx="2130.3" cy="1634.8" r="5"/></g>
</svg>
</body>
</html>
